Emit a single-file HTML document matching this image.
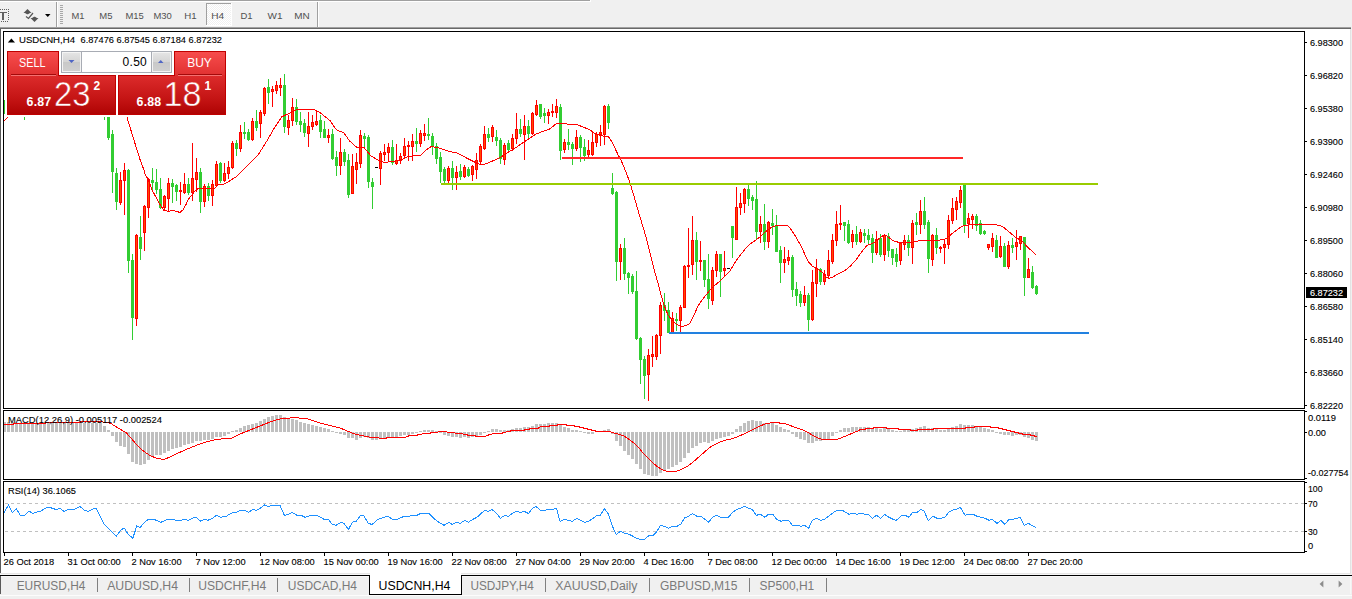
<!DOCTYPE html>
<html><head><meta charset="utf-8"><title>USDCNH,H4</title>
<style>
html,body{margin:0;padding:0}
body{width:1352px;height:599px;background:#f0f0f0;overflow:hidden;position:relative;font-family:"Liberation Sans",sans-serif}
svg{position:absolute;left:0;top:0}
svg text{font-family:"Liberation Sans",sans-serif}
</style></head><body>
<svg width="1352" height="599" viewBox="0 0 1352 599">
<defs>
<linearGradient id="gsell" x1="0" y1="0" x2="0" y2="1"><stop offset="0" stop-color="#f84c4c"/><stop offset="1" stop-color="#e13030"/></linearGradient>
<linearGradient id="gbig" x1="0" y1="0" x2="0" y2="1"><stop offset="0" stop-color="#dd2c2c"/><stop offset="0.6" stop-color="#c41414"/><stop offset="1" stop-color="#b00404"/></linearGradient>
<linearGradient id="gbtn" x1="0" y1="0" x2="0" y2="1"><stop offset="0" stop-color="#e4e4e4"/><stop offset="0.5" stop-color="#d4d4d4"/><stop offset="0.5" stop-color="#c8c8c8"/><stop offset="1" stop-color="#d0d0d0"/></linearGradient>
<pattern id="chk" width="2" height="2" patternUnits="userSpaceOnUse"><rect width="2" height="2" fill="#ffffff"/><rect width="1" height="1" fill="#f0f0f0"/><rect x="1" y="1" width="1" height="1" fill="#f0f0f0"/></pattern>
</defs>
<g shape-rendering="crispEdges">
<rect x="0" y="0" width="1352" height="29" fill="#f0f0f0"/>
<rect x="0" y="0" width="590" height="1" fill="#a0a0a0"/>
<rect x="0" y="1" width="591" height="1" fill="#ffffff"/>
<rect x="590" y="0" width="1" height="2" fill="#ffffff"/>
<rect x="0" y="27" width="1351" height="1" fill="#a0a0a0"/>
<rect x="0" y="28" width="1351" height="1" fill="#696969"/>
<rect x="0" y="9" width="1" height="1" fill="#606060"/>
<rect x="2" y="9" width="1" height="1" fill="#606060"/>
<rect x="4" y="9" width="1" height="1" fill="#606060"/>
<rect x="6" y="9" width="1" height="1" fill="#606060"/>
<rect x="8" y="9" width="1" height="1" fill="#606060"/>
<rect x="1" y="21" width="1" height="1" fill="#606060"/>
<rect x="3" y="21" width="1" height="1" fill="#606060"/>
<rect x="5" y="21" width="1" height="1" fill="#606060"/>
<rect x="7" y="21" width="1" height="1" fill="#606060"/>
<rect x="8" y="9" width="1" height="1" fill="#606060"/>
<rect x="8" y="11" width="1" height="1" fill="#606060"/>
<rect x="8" y="13" width="1" height="1" fill="#606060"/>
<rect x="8" y="15" width="1" height="1" fill="#606060"/>
<rect x="8" y="17" width="1" height="1" fill="#606060"/>
<rect x="8" y="19" width="1" height="1" fill="#606060"/>
<rect x="0" y="12" width="7" height="1" fill="#606060"/>
<rect x="2" y="12" width="2" height="8" fill="#606060"/>
<rect x="56" y="2" width="1" height="25" fill="#a0a0a0"/>
<rect x="57" y="2" width="1" height="25" fill="#ffffff"/>
<rect x="60" y="5" width="3" height="1" fill="#a8a8a8"/>
<rect x="60" y="7" width="3" height="1" fill="#a8a8a8"/>
<rect x="60" y="9" width="3" height="1" fill="#a8a8a8"/>
<rect x="60" y="11" width="3" height="1" fill="#a8a8a8"/>
<rect x="60" y="13" width="3" height="1" fill="#a8a8a8"/>
<rect x="60" y="15" width="3" height="1" fill="#a8a8a8"/>
<rect x="60" y="17" width="3" height="1" fill="#a8a8a8"/>
<rect x="60" y="19" width="3" height="1" fill="#a8a8a8"/>
<rect x="60" y="21" width="3" height="1" fill="#a8a8a8"/>
<rect x="60" y="23" width="3" height="1" fill="#a8a8a8"/>
<rect x="317" y="2" width="1" height="25" fill="#a0a0a0"/>
<rect x="318" y="2" width="1" height="25" fill="#ffffff"/>
<rect x="207" y="4" width="24" height="21" fill="url(#chk)"/>
<rect x="206" y="3" width="25" height="1" fill="#a0a0a0"/>
<rect x="206" y="3" width="1" height="22" fill="#a0a0a0"/>
<rect x="231" y="3" width="1" height="23" fill="#ffffff"/>
<rect x="206" y="25" width="26" height="1" fill="#ffffff"/>
</g>
<path d="M27.5 9 L31.5 13 L30 13 L28 14.2 L27 14.2 L25 13 L23.5 13 Z" fill="#555"/>
<path d="M34.5 22 L38.5 18 L37 18 L35 16.8 L34 16.8 L32 18 L30.5 18 Z" fill="#555"/>
<path d="M26 16.5 L28.5 18.5 L33 13" fill="none" stroke="#555" stroke-width="1.2"/>
<path d="M45 14 L50.5 14 L47.75 17 Z" fill="#000"/>
<text x="71.4" y="18.9" font-size="9.4" fill="#505050" textLength="13.00" lengthAdjust="spacingAndGlyphs" xml:space="preserve">M1</text>
<text x="99.3" y="18.9" font-size="9.4" fill="#505050" textLength="13.20" lengthAdjust="spacingAndGlyphs" xml:space="preserve">M5</text>
<text x="125.4" y="18.9" font-size="9.4" fill="#505050" textLength="18.40" lengthAdjust="spacingAndGlyphs" xml:space="preserve">M15</text>
<text x="153.39999999999998" y="18.9" font-size="9.4" fill="#505050" textLength="18.40" lengthAdjust="spacingAndGlyphs" xml:space="preserve">M30</text>
<text x="184.29999999999998" y="18.9" font-size="9.4" fill="#505050" textLength="12.40" lengthAdjust="spacingAndGlyphs" xml:space="preserve">H1</text>
<text x="211.29999999999998" y="18.9" font-size="9.4" fill="#505050" textLength="12.90" lengthAdjust="spacingAndGlyphs" xml:space="preserve">H4</text>
<text x="240.39999999999998" y="18.9" font-size="9.4" fill="#505050" textLength="12.10" lengthAdjust="spacingAndGlyphs" xml:space="preserve">D1</text>
<text x="267.5" y="18.9" font-size="9.4" fill="#505050" textLength="15.00" lengthAdjust="spacingAndGlyphs" xml:space="preserve">W1</text>
<text x="294.3" y="18.9" font-size="9.4" fill="#505050" textLength="15.50" lengthAdjust="spacingAndGlyphs" xml:space="preserve">MN</text>
<g shape-rendering="crispEdges">
<rect x="1" y="29" width="1349" height="544" fill="#ffffff"/>
<rect x="0" y="29" width="1" height="544" fill="#5a5a5a"/>
<rect x="1350" y="29" width="1" height="544" fill="#e3e3e3"/>
<rect x="0" y="573" width="1351" height="1" fill="#e6e6e6"/>
<rect x="0" y="574" width="1351" height="1" fill="#f6f6f6"/>
<rect x="3" y="31" width="1302" height="1" fill="#000"/>
<rect x="3" y="408" width="1302" height="1" fill="#000"/>
<rect x="3" y="31" width="1" height="378" fill="#000"/>
<rect x="1304" y="31" width="1" height="378" fill="#000"/>
<rect x="3" y="410" width="1302" height="1" fill="#000"/>
<rect x="3" y="479" width="1302" height="1" fill="#000"/>
<rect x="3" y="410" width="1" height="70" fill="#000"/>
<rect x="1304" y="410" width="1" height="70" fill="#000"/>
<rect x="3" y="481" width="1302" height="1" fill="#000"/>
<rect x="3" y="552" width="1302" height="1" fill="#000"/>
<rect x="3" y="481" width="1" height="72" fill="#000"/>
<rect x="1304" y="481" width="1" height="72" fill="#000"/>
<rect x="1305" y="42" width="2" height="1" fill="#000"/>
<rect x="1305" y="75" width="2" height="1" fill="#000"/>
<rect x="1305" y="108" width="2" height="1" fill="#000"/>
<rect x="1305" y="141" width="2" height="1" fill="#000"/>
<rect x="1305" y="174" width="2" height="1" fill="#000"/>
<rect x="1305" y="207" width="2" height="1" fill="#000"/>
<rect x="1305" y="240" width="2" height="1" fill="#000"/>
<rect x="1305" y="273" width="2" height="1" fill="#000"/>
<rect x="1305" y="306" width="2" height="1" fill="#000"/>
<rect x="1305" y="339" width="2" height="1" fill="#000"/>
<rect x="1305" y="372" width="2" height="1" fill="#000"/>
<rect x="1305" y="405" width="2" height="1" fill="#000"/>
<rect x="1305" y="411" width="2" height="1" fill="#000"/>
<rect x="1305" y="432" width="2" height="1" fill="#000"/>
<rect x="1305" y="478" width="2" height="1" fill="#000"/>
<rect x="1305" y="482" width="2" height="1" fill="#000"/>
<rect x="1305" y="503" width="2" height="1" fill="#000"/>
<rect x="1305" y="531" width="2" height="1" fill="#000"/>
<rect x="1305" y="551" width="2" height="1" fill="#000"/>
<rect x="4" y="553" width="1" height="3" fill="#000"/>
<rect x="68" y="553" width="1" height="3" fill="#000"/>
<rect x="132" y="553" width="1" height="3" fill="#000"/>
<rect x="196" y="553" width="1" height="3" fill="#000"/>
<rect x="260" y="553" width="1" height="3" fill="#000"/>
<rect x="324" y="553" width="1" height="3" fill="#000"/>
<rect x="388" y="553" width="1" height="3" fill="#000"/>
<rect x="452" y="553" width="1" height="3" fill="#000"/>
<rect x="516" y="553" width="1" height="3" fill="#000"/>
<rect x="580" y="553" width="1" height="3" fill="#000"/>
<rect x="644" y="553" width="1" height="3" fill="#000"/>
<rect x="708" y="553" width="1" height="3" fill="#000"/>
<rect x="772" y="553" width="1" height="3" fill="#000"/>
<rect x="836" y="553" width="1" height="3" fill="#000"/>
<rect x="900" y="553" width="1" height="3" fill="#000"/>
<rect x="964" y="553" width="1" height="3" fill="#000"/>
<rect x="1028" y="553" width="1" height="3" fill="#000"/>
<line x1="5" y1="503.5" x2="1304" y2="503.5" stroke="#c0c0c0" stroke-width="1" stroke-dasharray="3 3"/>
<line x1="5" y1="531.5" x2="1304" y2="531.5" stroke="#c0c0c0" stroke-width="1" stroke-dasharray="3 3"/>
<polyline points="4.0,513.0 8.4,505.0 12.4,512.4 16.4,509.0 20.4,515.5 24.4,515.5 29.0,511.0 33.0,513.5 37.0,512.0 40.0,511.5 47.0,507.5 50.0,507.5 56.0,509.5 60.0,508.4 64.3,511.5 68.3,509.4 74.0,509.4 80.0,506.4 84.0,510.0 88.0,511.5 94.0,508.5 96.3,508.4 100.0,516.0 104.0,524.0 109.0,529.0 113.0,533.0 116.4,536.0 121.0,530.0 124.2,528.0 128.0,534.0 132.8,538.3 136.8,526.0 140.0,527.5 144.0,523.0 148.2,519.3 153.8,519.3 160.8,522.3 167.8,519.3 172.0,519.3 176.8,520.5 180.7,520.3 184.7,519.3 188.0,520.5 192.7,518.0 196.3,517.3 200.7,521.3 204.7,519.3 208.0,520.3 212.7,518.0 216.7,515.3 220.7,517.3 226.7,516.0 231.7,513.0 236.7,512.0 240.7,510.0 244.7,510.0 248.7,512.4 252.6,509.4 256.0,510.4 260.6,508.0 264.4,505.0 268.4,506.6 272.4,505.4 280.0,505.4 284.4,515.3 288.4,514.3 292.4,512.4 297.0,515.3 301.0,515.3 305.0,517.3 311.0,515.3 317.0,515.3 324.0,519.3 328.3,519.3 332.3,524.3 336.0,525.3 341.0,522.3 344.0,523.3 348.5,529.5 352.3,522.3 356.5,521.0 360.5,515.3 364.0,516.0 368.3,523.3 372.0,524.5 378.0,519.3 384.0,517.3 388.0,516.3 393.0,519.5 397.0,519.5 404.0,516.3 409.0,516.3 413.0,515.3 417.0,515.3 421.0,513.3 429.0,513.3 434.0,518.5 440.0,523.0 444.0,525.3 449.0,522.3 452.0,524.3 457.0,522.3 460.3,523.3 465.0,520.3 468.3,522.3 473.0,519.3 477.0,517.3 481.0,513.5 485.0,510.5 488.3,511.3 492.0,509.4 497.0,514.0 500.3,518.3 505.0,515.3 508.3,516.3 513.0,513.0 517.0,511.3 520.3,512.4 524.4,511.5 528.4,513.5 532.4,508.4 536.0,506.4 540.4,510.4 544.4,510.4 548.4,509.4 553.0,509.4 556.5,508.4 560.0,521.3 564.3,519.3 568.0,520.3 572.3,521.3 577.0,518.3 580.5,520.3 585.0,522.3 589.0,521.0 592.3,519.0 596.3,516.0 600.5,515.3 604.3,508.4 608.5,514.0 612.3,526.0 616.3,534.5 620.5,531.3 625.0,533.3 629.0,534.3 633.0,536.3 637.0,538.5 641.0,539.5 644.2,539.5 649.0,535.5 653.0,535.5 657.0,531.3 660.4,525.3 664.2,526.3 668.4,528.3 672.2,526.3 677.0,526.3 681.0,524.0 684.4,518.0 688.4,516.3 692.4,513.5 697.0,516.3 701.0,516.3 705.0,519.3 708.3,522.3 713.0,517.0 716.3,515.3 721.0,517.3 728.3,517.3 733.0,512.0 737.0,509.4 741.0,508.0 744.3,506.4 748.3,508.0 752.3,509.4 756.3,515.3 760.3,514.3 765.0,517.3 768.3,514.3 773.0,514.3 776.3,519.0 781.0,521.3 784.0,520.3 788.4,520.3 792.4,525.3 798.0,525.3 801.0,526.3 804.4,525.3 808.6,528.3 812.4,520.3 816.3,518.3 821.0,520.3 825.0,519.0 829.0,516.0 833.0,513.0 836.5,510.4 842.0,510.0 849.0,514.3 853.0,513.3 857.0,514.3 861.0,513.3 865.0,514.3 868.5,514.3 872.5,518.3 876.5,515.3 880.5,518.3 884.5,514.3 889.0,517.3 893.0,519.3 896.4,520.3 901.0,516.0 905.0,515.3 909.0,517.3 912.4,512.5 917.0,512.4 921.0,509.4 924.0,511.0 928.2,520.5 933.0,516.3 937.0,518.3 941.0,518.3 945.0,517.3 949.0,512.0 953.0,510.0 957.0,509.0 960.3,507.4 965.0,515.3 969.0,514.3 973.0,514.3 977.0,516.3 981.0,517.3 985.0,518.3 989.0,520.3 992.3,519.3 997.0,523.3 1001.0,520.3 1005.0,524.3 1009.0,519.3 1013.0,519.3 1017.0,518.3 1020.3,517.3 1024.3,525.3 1028.3,523.3 1033.0,526.0 1036.0,527.3" fill="none" stroke="#1e90ff" stroke-width="1"/>
<rect x="4" y="422" width="2" height="10" fill="#c0c0c0"/>
<rect x="7" y="422" width="3" height="10" fill="#c0c0c0"/>
<rect x="11" y="422" width="3" height="10" fill="#c0c0c0"/>
<rect x="15" y="423" width="3" height="9" fill="#c0c0c0"/>
<rect x="19" y="423" width="3" height="9" fill="#c0c0c0"/>
<rect x="23" y="423" width="3" height="9" fill="#c0c0c0"/>
<rect x="27" y="423" width="3" height="9" fill="#c0c0c0"/>
<rect x="31" y="423" width="3" height="9" fill="#c0c0c0"/>
<rect x="35" y="423" width="3" height="9" fill="#c0c0c0"/>
<rect x="39" y="423" width="3" height="9" fill="#c0c0c0"/>
<rect x="43" y="423" width="3" height="9" fill="#c0c0c0"/>
<rect x="47" y="423" width="3" height="9" fill="#c0c0c0"/>
<rect x="51" y="423" width="3" height="9" fill="#c0c0c0"/>
<rect x="55" y="423" width="3" height="9" fill="#c0c0c0"/>
<rect x="59" y="423" width="3" height="9" fill="#c0c0c0"/>
<rect x="63" y="423" width="3" height="9" fill="#c0c0c0"/>
<rect x="67" y="423" width="3" height="9" fill="#c0c0c0"/>
<rect x="71" y="423" width="3" height="9" fill="#c0c0c0"/>
<rect x="75" y="423" width="3" height="9" fill="#c0c0c0"/>
<rect x="79" y="423" width="3" height="9" fill="#c0c0c0"/>
<rect x="83" y="423" width="3" height="9" fill="#c0c0c0"/>
<rect x="87" y="423" width="3" height="9" fill="#c0c0c0"/>
<rect x="91" y="423" width="3" height="9" fill="#c0c0c0"/>
<rect x="95" y="423" width="3" height="9" fill="#c0c0c0"/>
<rect x="99" y="423" width="3" height="9" fill="#c0c0c0"/>
<rect x="103" y="426" width="3" height="6" fill="#c0c0c0"/>
<rect x="107" y="430" width="3" height="2" fill="#c0c0c0"/>
<rect x="111" y="432" width="3" height="4" fill="#c0c0c0"/>
<rect x="115" y="432" width="3" height="10" fill="#c0c0c0"/>
<rect x="119" y="432" width="3" height="14" fill="#c0c0c0"/>
<rect x="123" y="432" width="3" height="15" fill="#c0c0c0"/>
<rect x="127" y="432" width="3" height="22" fill="#c0c0c0"/>
<rect x="131" y="432" width="3" height="30" fill="#c0c0c0"/>
<rect x="135" y="432" width="3" height="32" fill="#c0c0c0"/>
<rect x="139" y="432" width="3" height="33" fill="#c0c0c0"/>
<rect x="143" y="432" width="3" height="32" fill="#c0c0c0"/>
<rect x="147" y="432" width="3" height="28" fill="#c0c0c0"/>
<rect x="151" y="432" width="3" height="24" fill="#c0c0c0"/>
<rect x="155" y="432" width="3" height="23" fill="#c0c0c0"/>
<rect x="159" y="432" width="3" height="23" fill="#c0c0c0"/>
<rect x="163" y="432" width="3" height="21" fill="#c0c0c0"/>
<rect x="167" y="432" width="3" height="19" fill="#c0c0c0"/>
<rect x="171" y="432" width="3" height="17" fill="#c0c0c0"/>
<rect x="175" y="432" width="3" height="16" fill="#c0c0c0"/>
<rect x="179" y="432" width="3" height="15" fill="#c0c0c0"/>
<rect x="183" y="432" width="3" height="13" fill="#c0c0c0"/>
<rect x="187" y="432" width="3" height="12" fill="#c0c0c0"/>
<rect x="191" y="432" width="3" height="11" fill="#c0c0c0"/>
<rect x="195" y="432" width="3" height="9" fill="#c0c0c0"/>
<rect x="199" y="432" width="3" height="9" fill="#c0c0c0"/>
<rect x="203" y="432" width="3" height="8" fill="#c0c0c0"/>
<rect x="207" y="432" width="3" height="8" fill="#c0c0c0"/>
<rect x="211" y="432" width="3" height="7" fill="#c0c0c0"/>
<rect x="215" y="432" width="3" height="5" fill="#c0c0c0"/>
<rect x="219" y="432" width="3" height="5" fill="#c0c0c0"/>
<rect x="223" y="432" width="3" height="4" fill="#c0c0c0"/>
<rect x="227" y="432" width="3" height="2" fill="#c0c0c0"/>
<rect x="231" y="431" width="3" height="1" fill="#c0c0c0"/>
<rect x="235" y="430" width="3" height="2" fill="#c0c0c0"/>
<rect x="239" y="428" width="3" height="4" fill="#c0c0c0"/>
<rect x="243" y="426" width="3" height="6" fill="#c0c0c0"/>
<rect x="247" y="425" width="3" height="7" fill="#c0c0c0"/>
<rect x="251" y="424" width="3" height="8" fill="#c0c0c0"/>
<rect x="255" y="423" width="3" height="9" fill="#c0c0c0"/>
<rect x="259" y="421" width="3" height="11" fill="#c0c0c0"/>
<rect x="263" y="419" width="3" height="13" fill="#c0c0c0"/>
<rect x="267" y="417" width="3" height="15" fill="#c0c0c0"/>
<rect x="271" y="416" width="3" height="16" fill="#c0c0c0"/>
<rect x="275" y="415" width="3" height="17" fill="#c0c0c0"/>
<rect x="279" y="415" width="3" height="17" fill="#c0c0c0"/>
<rect x="283" y="417" width="3" height="15" fill="#c0c0c0"/>
<rect x="287" y="418" width="3" height="14" fill="#c0c0c0"/>
<rect x="291" y="419" width="3" height="13" fill="#c0c0c0"/>
<rect x="295" y="420" width="3" height="12" fill="#c0c0c0"/>
<rect x="299" y="422" width="3" height="10" fill="#c0c0c0"/>
<rect x="303" y="423" width="3" height="9" fill="#c0c0c0"/>
<rect x="307" y="424" width="3" height="8" fill="#c0c0c0"/>
<rect x="311" y="425" width="3" height="7" fill="#c0c0c0"/>
<rect x="315" y="426" width="3" height="6" fill="#c0c0c0"/>
<rect x="319" y="427" width="3" height="5" fill="#c0c0c0"/>
<rect x="323" y="428" width="3" height="4" fill="#c0c0c0"/>
<rect x="327" y="429" width="3" height="3" fill="#c0c0c0"/>
<rect x="331" y="431" width="3" height="1" fill="#c0c0c0"/>
<rect x="335" y="432" width="3" height="1" fill="#c0c0c0"/>
<rect x="339" y="432" width="3" height="2" fill="#c0c0c0"/>
<rect x="343" y="432" width="3" height="3" fill="#c0c0c0"/>
<rect x="347" y="432" width="3" height="6" fill="#c0c0c0"/>
<rect x="351" y="432" width="3" height="6" fill="#c0c0c0"/>
<rect x="355" y="432" width="3" height="8" fill="#c0c0c0"/>
<rect x="359" y="432" width="3" height="6" fill="#c0c0c0"/>
<rect x="363" y="432" width="3" height="5" fill="#c0c0c0"/>
<rect x="367" y="432" width="3" height="6" fill="#c0c0c0"/>
<rect x="371" y="432" width="3" height="8" fill="#c0c0c0"/>
<rect x="375" y="432" width="3" height="8" fill="#c0c0c0"/>
<rect x="379" y="432" width="3" height="7" fill="#c0c0c0"/>
<rect x="383" y="432" width="3" height="7" fill="#c0c0c0"/>
<rect x="387" y="432" width="3" height="6" fill="#c0c0c0"/>
<rect x="391" y="432" width="3" height="6" fill="#c0c0c0"/>
<rect x="395" y="432" width="3" height="5" fill="#c0c0c0"/>
<rect x="399" y="432" width="3" height="4" fill="#c0c0c0"/>
<rect x="403" y="432" width="3" height="3" fill="#c0c0c0"/>
<rect x="407" y="432" width="3" height="3" fill="#c0c0c0"/>
<rect x="411" y="432" width="3" height="2" fill="#c0c0c0"/>
<rect x="415" y="432" width="3" height="1" fill="#c0c0c0"/>
<rect x="419" y="431" width="3" height="1" fill="#c0c0c0"/>
<rect x="423" y="430" width="3" height="2" fill="#c0c0c0"/>
<rect x="427" y="430" width="3" height="2" fill="#c0c0c0"/>
<rect x="431" y="430" width="3" height="2" fill="#c0c0c0"/>
<rect x="435" y="431" width="3" height="1" fill="#c0c0c0"/>
<rect x="439" y="432" width="3" height="1" fill="#c0c0c0"/>
<rect x="443" y="432" width="3" height="3" fill="#c0c0c0"/>
<rect x="447" y="432" width="3" height="4" fill="#c0c0c0"/>
<rect x="451" y="432" width="3" height="5" fill="#c0c0c0"/>
<rect x="455" y="432" width="3" height="5" fill="#c0c0c0"/>
<rect x="459" y="432" width="3" height="6" fill="#c0c0c0"/>
<rect x="463" y="432" width="3" height="5" fill="#c0c0c0"/>
<rect x="467" y="432" width="3" height="6" fill="#c0c0c0"/>
<rect x="471" y="432" width="3" height="5" fill="#c0c0c0"/>
<rect x="475" y="432" width="3" height="4" fill="#c0c0c0"/>
<rect x="479" y="432" width="3" height="3" fill="#c0c0c0"/>
<rect x="483" y="432" width="3" height="1" fill="#c0c0c0"/>
<rect x="487" y="431" width="3" height="1" fill="#c0c0c0"/>
<rect x="491" y="429" width="3" height="3" fill="#c0c0c0"/>
<rect x="495" y="429" width="3" height="3" fill="#c0c0c0"/>
<rect x="499" y="430" width="3" height="2" fill="#c0c0c0"/>
<rect x="503" y="430" width="3" height="2" fill="#c0c0c0"/>
<rect x="507" y="430" width="3" height="2" fill="#c0c0c0"/>
<rect x="511" y="429" width="3" height="3" fill="#c0c0c0"/>
<rect x="515" y="428" width="3" height="4" fill="#c0c0c0"/>
<rect x="519" y="428" width="3" height="4" fill="#c0c0c0"/>
<rect x="523" y="427" width="3" height="5" fill="#c0c0c0"/>
<rect x="527" y="427" width="3" height="5" fill="#c0c0c0"/>
<rect x="531" y="426" width="3" height="6" fill="#c0c0c0"/>
<rect x="535" y="424" width="3" height="8" fill="#c0c0c0"/>
<rect x="539" y="424" width="3" height="8" fill="#c0c0c0"/>
<rect x="543" y="424" width="3" height="8" fill="#c0c0c0"/>
<rect x="547" y="423" width="3" height="9" fill="#c0c0c0"/>
<rect x="551" y="423" width="3" height="9" fill="#c0c0c0"/>
<rect x="555" y="423" width="3" height="9" fill="#c0c0c0"/>
<rect x="559" y="425" width="3" height="7" fill="#c0c0c0"/>
<rect x="563" y="427" width="3" height="5" fill="#c0c0c0"/>
<rect x="567" y="428" width="3" height="4" fill="#c0c0c0"/>
<rect x="571" y="430" width="3" height="2" fill="#c0c0c0"/>
<rect x="575" y="430" width="3" height="2" fill="#c0c0c0"/>
<rect x="579" y="431" width="3" height="1" fill="#c0c0c0"/>
<rect x="583" y="432" width="3" height="1" fill="#c0c0c0"/>
<rect x="587" y="432" width="3" height="2" fill="#c0c0c0"/>
<rect x="591" y="432" width="3" height="2" fill="#c0c0c0"/>
<rect x="595" y="431" width="3" height="1" fill="#c0c0c0"/>
<rect x="599" y="431" width="3" height="1" fill="#c0c0c0"/>
<rect x="603" y="430" width="3" height="2" fill="#c0c0c0"/>
<rect x="607" y="429" width="3" height="3" fill="#c0c0c0"/>
<rect x="611" y="432" width="3" height="2" fill="#c0c0c0"/>
<rect x="615" y="432" width="3" height="9" fill="#c0c0c0"/>
<rect x="619" y="432" width="3" height="14" fill="#c0c0c0"/>
<rect x="623" y="432" width="3" height="19" fill="#c0c0c0"/>
<rect x="627" y="432" width="3" height="23" fill="#c0c0c0"/>
<rect x="631" y="432" width="3" height="27" fill="#c0c0c0"/>
<rect x="635" y="432" width="3" height="32" fill="#c0c0c0"/>
<rect x="639" y="432" width="3" height="37" fill="#c0c0c0"/>
<rect x="643" y="432" width="3" height="42" fill="#c0c0c0"/>
<rect x="647" y="432" width="3" height="43" fill="#c0c0c0"/>
<rect x="651" y="432" width="3" height="44" fill="#c0c0c0"/>
<rect x="655" y="432" width="3" height="44" fill="#c0c0c0"/>
<rect x="659" y="432" width="3" height="41" fill="#c0c0c0"/>
<rect x="663" y="432" width="3" height="38" fill="#c0c0c0"/>
<rect x="667" y="432" width="3" height="37" fill="#c0c0c0"/>
<rect x="671" y="432" width="3" height="35" fill="#c0c0c0"/>
<rect x="675" y="432" width="3" height="33" fill="#c0c0c0"/>
<rect x="679" y="432" width="3" height="30" fill="#c0c0c0"/>
<rect x="683" y="432" width="3" height="26" fill="#c0c0c0"/>
<rect x="687" y="432" width="3" height="21" fill="#c0c0c0"/>
<rect x="691" y="432" width="3" height="16" fill="#c0c0c0"/>
<rect x="695" y="432" width="3" height="14" fill="#c0c0c0"/>
<rect x="699" y="432" width="3" height="11" fill="#c0c0c0"/>
<rect x="703" y="432" width="3" height="10" fill="#c0c0c0"/>
<rect x="707" y="432" width="3" height="11" fill="#c0c0c0"/>
<rect x="711" y="432" width="3" height="9" fill="#c0c0c0"/>
<rect x="715" y="432" width="3" height="7" fill="#c0c0c0"/>
<rect x="719" y="432" width="3" height="6" fill="#c0c0c0"/>
<rect x="723" y="432" width="3" height="5" fill="#c0c0c0"/>
<rect x="727" y="432" width="3" height="4" fill="#c0c0c0"/>
<rect x="731" y="432" width="3" height="2" fill="#c0c0c0"/>
<rect x="735" y="429" width="3" height="3" fill="#c0c0c0"/>
<rect x="739" y="426" width="3" height="6" fill="#c0c0c0"/>
<rect x="743" y="423" width="3" height="9" fill="#c0c0c0"/>
<rect x="747" y="421" width="3" height="11" fill="#c0c0c0"/>
<rect x="751" y="420" width="3" height="12" fill="#c0c0c0"/>
<rect x="755" y="421" width="3" height="11" fill="#c0c0c0"/>
<rect x="759" y="421" width="3" height="11" fill="#c0c0c0"/>
<rect x="763" y="423" width="3" height="9" fill="#c0c0c0"/>
<rect x="767" y="423" width="3" height="9" fill="#c0c0c0"/>
<rect x="771" y="423" width="3" height="9" fill="#c0c0c0"/>
<rect x="775" y="425" width="3" height="7" fill="#c0c0c0"/>
<rect x="779" y="427" width="3" height="5" fill="#c0c0c0"/>
<rect x="783" y="429" width="3" height="3" fill="#c0c0c0"/>
<rect x="787" y="430" width="3" height="2" fill="#c0c0c0"/>
<rect x="791" y="432" width="3" height="2" fill="#c0c0c0"/>
<rect x="795" y="432" width="3" height="5" fill="#c0c0c0"/>
<rect x="799" y="432" width="3" height="7" fill="#c0c0c0"/>
<rect x="803" y="432" width="3" height="8" fill="#c0c0c0"/>
<rect x="807" y="432" width="3" height="11" fill="#c0c0c0"/>
<rect x="811" y="432" width="3" height="11" fill="#c0c0c0"/>
<rect x="815" y="432" width="3" height="9" fill="#c0c0c0"/>
<rect x="819" y="432" width="3" height="9" fill="#c0c0c0"/>
<rect x="823" y="432" width="3" height="8" fill="#c0c0c0"/>
<rect x="827" y="432" width="3" height="7" fill="#c0c0c0"/>
<rect x="831" y="432" width="3" height="4" fill="#c0c0c0"/>
<rect x="835" y="432" width="3" height="1" fill="#c0c0c0"/>
<rect x="839" y="430" width="3" height="2" fill="#c0c0c0"/>
<rect x="843" y="428" width="3" height="4" fill="#c0c0c0"/>
<rect x="847" y="428" width="3" height="4" fill="#c0c0c0"/>
<rect x="851" y="427" width="3" height="5" fill="#c0c0c0"/>
<rect x="855" y="427" width="3" height="5" fill="#c0c0c0"/>
<rect x="859" y="427" width="3" height="5" fill="#c0c0c0"/>
<rect x="863" y="427" width="3" height="5" fill="#c0c0c0"/>
<rect x="867" y="427" width="3" height="5" fill="#c0c0c0"/>
<rect x="871" y="428" width="3" height="4" fill="#c0c0c0"/>
<rect x="875" y="427" width="3" height="5" fill="#c0c0c0"/>
<rect x="879" y="429" width="3" height="3" fill="#c0c0c0"/>
<rect x="883" y="427" width="3" height="5" fill="#c0c0c0"/>
<rect x="887" y="429" width="3" height="3" fill="#c0c0c0"/>
<rect x="891" y="430" width="3" height="2" fill="#c0c0c0"/>
<rect x="895" y="431" width="3" height="1" fill="#c0c0c0"/>
<rect x="899" y="431" width="3" height="1" fill="#c0c0c0"/>
<rect x="903" y="430" width="3" height="2" fill="#c0c0c0"/>
<rect x="907" y="430" width="3" height="2" fill="#c0c0c0"/>
<rect x="911" y="429" width="3" height="3" fill="#c0c0c0"/>
<rect x="915" y="428" width="3" height="4" fill="#c0c0c0"/>
<rect x="919" y="427" width="3" height="5" fill="#c0c0c0"/>
<rect x="923" y="426" width="3" height="6" fill="#c0c0c0"/>
<rect x="927" y="428" width="3" height="4" fill="#c0c0c0"/>
<rect x="931" y="428" width="3" height="4" fill="#c0c0c0"/>
<rect x="935" y="429" width="3" height="3" fill="#c0c0c0"/>
<rect x="939" y="430" width="3" height="2" fill="#c0c0c0"/>
<rect x="943" y="430" width="3" height="2" fill="#c0c0c0"/>
<rect x="947" y="429" width="3" height="3" fill="#c0c0c0"/>
<rect x="951" y="427" width="3" height="5" fill="#c0c0c0"/>
<rect x="955" y="426" width="3" height="6" fill="#c0c0c0"/>
<rect x="959" y="424" width="3" height="8" fill="#c0c0c0"/>
<rect x="963" y="425" width="3" height="7" fill="#c0c0c0"/>
<rect x="967" y="425" width="3" height="7" fill="#c0c0c0"/>
<rect x="971" y="425" width="3" height="7" fill="#c0c0c0"/>
<rect x="975" y="426" width="3" height="6" fill="#c0c0c0"/>
<rect x="979" y="427" width="3" height="5" fill="#c0c0c0"/>
<rect x="983" y="428" width="3" height="4" fill="#c0c0c0"/>
<rect x="987" y="429" width="3" height="3" fill="#c0c0c0"/>
<rect x="991" y="430" width="3" height="2" fill="#c0c0c0"/>
<rect x="995" y="432" width="3" height="1" fill="#c0c0c0"/>
<rect x="999" y="432" width="3" height="2" fill="#c0c0c0"/>
<rect x="1003" y="432" width="3" height="3" fill="#c0c0c0"/>
<rect x="1007" y="432" width="3" height="3" fill="#c0c0c0"/>
<rect x="1011" y="432" width="3" height="4" fill="#c0c0c0"/>
<rect x="1015" y="432" width="3" height="3" fill="#c0c0c0"/>
<rect x="1019" y="432" width="3" height="3" fill="#c0c0c0"/>
<rect x="1023" y="432" width="3" height="5" fill="#c0c0c0"/>
<rect x="1027" y="432" width="3" height="6" fill="#c0c0c0"/>
<rect x="1031" y="432" width="3" height="8" fill="#c0c0c0"/>
<rect x="1035" y="432" width="3" height="9" fill="#c0c0c0"/>
<polyline points="4.0,424.5 13.9,424.5 14.0,423.5 45.9,423.5 46.0,422.5 80.9,422.5 81.0,421.5 102.0,421.5 104.0,422.5 108.0,422.5 110.0,423.5 111.0,423.6 114.0,425.4 117.0,427.4 119.0,428.4 122.0,430.4 126.0,432.6 131.0,438.0 136.0,444.0 141.0,449.0 146.0,453.0 151.0,456.0 156.0,458.0 161.0,459.0 165.0,459.0 171.0,456.6 176.0,454.0 186.0,449.5 196.0,445.5 206.0,442.0 216.0,439.5 226.0,438.6 232.0,438.0 240.0,434.0 250.0,430.0 260.0,426.0 270.0,422.0 276.0,420.0 282.0,418.5 290.0,418.0 292.0,417.5 298.0,417.5 300.0,418.5 306.0,418.5 310.0,419.5 318.0,422.5 326.0,424.5 334.0,426.5 340.0,428.0 346.0,430.5 352.0,433.0 356.0,434.5 362.0,435.5 366.0,436.5 372.0,437.5 378.0,437.5 380.0,438.5 386.0,438.5 387.0,437.5 405.0,437.5 407.0,436.5 410.0,435.5 417.0,435.5 418.0,434.5 421.0,434.5 423.0,433.5 430.0,433.5 431.0,432.5 437.0,432.5 439.0,431.5 446.0,431.5 448.0,432.5 454.0,432.5 456.0,433.5 462.0,433.5 464.0,434.5 467.0,434.5 468.0,435.5 475.0,435.5 476.0,436.5 485.0,436.5 487.0,435.5 490.0,434.5 494.0,433.5 502.0,433.5 503.0,432.5 510.0,431.5 511.0,430.5 524.0,430.5 525.0,429.5 529.0,429.5 530.0,428.5 538.0,428.5 539.0,427.5 541.0,426.5 549.0,426.5 550.0,425.5 557.0,425.5 558.0,424.5 566.0,424.5 567.0,425.5 574.0,425.5 575.0,426.5 579.0,426.5 580.0,427.5 583.0,427.5 584.0,428.5 587.0,428.5 588.0,429.5 591.0,429.5 592.0,430.5 595.0,430.5 596.0,431.5 610.0,431.5 612.0,432.5 618.0,434.0 624.0,436.0 628.0,438.5 632.0,441.5 636.0,445.0 640.0,449.0 642.0,452.0 646.0,456.0 650.0,460.0 654.0,464.0 658.0,467.0 662.0,469.5 666.0,471.0 668.0,471.4 676.0,471.4 680.0,470.0 684.0,468.0 688.0,466.0 692.0,463.0 696.0,459.5 700.0,456.0 704.0,452.5 708.0,449.0 712.0,446.0 716.0,444.0 720.0,442.0 724.0,440.5 728.0,439.5 730.0,439.3 737.0,437.0 745.0,433.5 752.0,430.0 760.0,426.0 765.0,424.0 770.0,423.0 772.0,422.5 778.0,422.5 780.0,423.2 785.0,423.5 790.0,425.5 797.0,428.0 803.0,430.0 808.0,432.5 814.0,436.0 818.0,438.0 823.0,439.5 837.0,439.5 841.0,438.0 847.0,435.5 853.0,433.0 859.0,430.5 860.0,429.5 865.0,429.5 866.0,428.5 873.0,428.5 874.0,427.5 886.0,427.5 887.0,428.5 898.0,428.5 899.0,429.5 910.0,429.5 911.0,430.5 917.0,430.5 918.0,429.5 933.0,429.5 934.0,428.5 965.0,428.5 966.0,427.5 974.0,427.5 975.0,426.5 990.0,426.5 991.0,427.5 998.0,427.5 999.0,428.5 1002.0,428.5 1003.0,429.5 1006.0,429.5 1007.0,430.5 1010.0,430.5 1011.0,431.5 1014.0,431.5 1015.0,432.5 1018.0,432.5 1019.0,433.5 1022.0,433.5 1023.0,434.5 1030.0,434.5 1031.0,435.5 1034.0,435.5 1035.0,436.5 1036.9,436.5" fill="none" stroke="#ff0000" stroke-width="1"/>
<rect x="112" y="130" width="1" height="63" fill="#32cd32"/>
<rect x="111" y="134" width="3" height="38" fill="#32cd32"/>
<rect x="116" y="168" width="1" height="42" fill="#32cd32"/>
<rect x="115" y="173" width="3" height="29" fill="#32cd32"/>
<rect x="120" y="172" width="1" height="33" fill="#ff0000"/>
<rect x="119" y="180" width="3" height="23" fill="#ff0000"/>
<rect x="120" y="181" width="1" height="21" fill="#ff4a00"/>
<rect x="124" y="163" width="1" height="52" fill="#ff0000"/>
<rect x="123" y="170" width="3" height="11" fill="#ff0000"/>
<rect x="124" y="171" width="1" height="9" fill="#ff4a00"/>
<rect x="128" y="169" width="1" height="104" fill="#32cd32"/>
<rect x="127" y="170" width="3" height="91" fill="#32cd32"/>
<rect x="132" y="254" width="1" height="86" fill="#32cd32"/>
<rect x="131" y="260" width="3" height="58" fill="#32cd32"/>
<rect x="136" y="234" width="1" height="92" fill="#ff0000"/>
<rect x="135" y="235" width="3" height="84" fill="#ff0000"/>
<rect x="136" y="236" width="1" height="82" fill="#ff4a00"/>
<rect x="140" y="216" width="1" height="44" fill="#32cd32"/>
<rect x="139" y="237" width="3" height="12" fill="#32cd32"/>
<rect x="144" y="205" width="1" height="46" fill="#ff0000"/>
<rect x="143" y="206" width="3" height="27" fill="#ff0000"/>
<rect x="144" y="207" width="1" height="25" fill="#ff4a00"/>
<rect x="148" y="178" width="1" height="40" fill="#ff0000"/>
<rect x="147" y="179" width="3" height="29" fill="#ff0000"/>
<rect x="148" y="180" width="1" height="27" fill="#ff4a00"/>
<rect x="152" y="168" width="1" height="24" fill="#32cd32"/>
<rect x="151" y="180" width="3" height="3" fill="#32cd32"/>
<rect x="156" y="169" width="1" height="25" fill="#32cd32"/>
<rect x="155" y="182" width="3" height="8" fill="#32cd32"/>
<rect x="160" y="178" width="1" height="31" fill="#32cd32"/>
<rect x="159" y="189" width="3" height="19" fill="#32cd32"/>
<rect x="164" y="195" width="1" height="15" fill="#ff0000"/>
<rect x="163" y="196" width="3" height="12" fill="#ff0000"/>
<rect x="164" y="197" width="1" height="10" fill="#ff4a00"/>
<rect x="168" y="178" width="1" height="33" fill="#ff0000"/>
<rect x="167" y="183" width="3" height="16" fill="#ff0000"/>
<rect x="168" y="184" width="1" height="14" fill="#ff4a00"/>
<rect x="172" y="179" width="1" height="24" fill="#32cd32"/>
<rect x="171" y="183" width="3" height="4" fill="#32cd32"/>
<rect x="176" y="184" width="1" height="17" fill="#32cd32"/>
<rect x="175" y="185" width="3" height="7" fill="#32cd32"/>
<rect x="180" y="182" width="1" height="23" fill="#ff0000"/>
<rect x="179" y="190" width="3" height="2" fill="#ff0000"/>
<rect x="184" y="173" width="1" height="21" fill="#ff0000"/>
<rect x="183" y="184" width="3" height="9" fill="#ff0000"/>
<rect x="184" y="185" width="1" height="7" fill="#ff4a00"/>
<rect x="188" y="178" width="1" height="17" fill="#32cd32"/>
<rect x="187" y="184" width="3" height="9" fill="#32cd32"/>
<rect x="192" y="143" width="1" height="58" fill="#ff0000"/>
<rect x="191" y="178" width="3" height="15" fill="#ff0000"/>
<rect x="192" y="179" width="1" height="13" fill="#ff4a00"/>
<rect x="196" y="158" width="1" height="34" fill="#ff0000"/>
<rect x="195" y="172" width="3" height="8" fill="#ff0000"/>
<rect x="196" y="173" width="1" height="6" fill="#ff4a00"/>
<rect x="200" y="168" width="1" height="45" fill="#32cd32"/>
<rect x="199" y="172" width="3" height="30" fill="#32cd32"/>
<rect x="204" y="184" width="1" height="23" fill="#ff0000"/>
<rect x="203" y="186" width="3" height="16" fill="#ff0000"/>
<rect x="204" y="187" width="1" height="14" fill="#ff4a00"/>
<rect x="208" y="183" width="1" height="18" fill="#32cd32"/>
<rect x="207" y="186" width="3" height="10" fill="#32cd32"/>
<rect x="212" y="180" width="1" height="26" fill="#ff0000"/>
<rect x="211" y="184" width="3" height="12" fill="#ff0000"/>
<rect x="212" y="185" width="1" height="10" fill="#ff4a00"/>
<rect x="216" y="161" width="1" height="26" fill="#ff0000"/>
<rect x="215" y="164" width="3" height="22" fill="#ff0000"/>
<rect x="216" y="165" width="1" height="20" fill="#ff4a00"/>
<rect x="220" y="162" width="1" height="21" fill="#32cd32"/>
<rect x="219" y="163" width="3" height="18" fill="#32cd32"/>
<rect x="224" y="163" width="1" height="19" fill="#ff0000"/>
<rect x="223" y="173" width="3" height="8" fill="#ff0000"/>
<rect x="224" y="174" width="1" height="6" fill="#ff4a00"/>
<rect x="228" y="161" width="1" height="18" fill="#ff0000"/>
<rect x="227" y="167" width="3" height="7" fill="#ff0000"/>
<rect x="228" y="168" width="1" height="5" fill="#ff4a00"/>
<rect x="232" y="141" width="1" height="28" fill="#ff0000"/>
<rect x="231" y="143" width="3" height="25" fill="#ff0000"/>
<rect x="232" y="144" width="1" height="23" fill="#ff4a00"/>
<rect x="236" y="140" width="1" height="16" fill="#32cd32"/>
<rect x="235" y="143" width="3" height="6" fill="#32cd32"/>
<rect x="240" y="125" width="1" height="27" fill="#ff0000"/>
<rect x="239" y="132" width="3" height="17" fill="#ff0000"/>
<rect x="240" y="133" width="1" height="15" fill="#ff4a00"/>
<rect x="244" y="122" width="1" height="17" fill="#32cd32"/>
<rect x="243" y="132" width="3" height="2" fill="#32cd32"/>
<rect x="248" y="129" width="1" height="12" fill="#32cd32"/>
<rect x="247" y="132" width="3" height="8" fill="#32cd32"/>
<rect x="252" y="118" width="1" height="23" fill="#ff0000"/>
<rect x="251" y="121" width="3" height="19" fill="#ff0000"/>
<rect x="252" y="122" width="1" height="17" fill="#ff4a00"/>
<rect x="256" y="110" width="1" height="21" fill="#32cd32"/>
<rect x="255" y="121" width="3" height="7" fill="#32cd32"/>
<rect x="260" y="110" width="1" height="28" fill="#ff0000"/>
<rect x="259" y="112" width="3" height="12" fill="#ff0000"/>
<rect x="260" y="113" width="1" height="10" fill="#ff4a00"/>
<rect x="264" y="87" width="1" height="29" fill="#ff0000"/>
<rect x="263" y="88" width="3" height="26" fill="#ff0000"/>
<rect x="264" y="89" width="1" height="24" fill="#ff4a00"/>
<rect x="268" y="79" width="1" height="25" fill="#32cd32"/>
<rect x="267" y="87" width="3" height="6" fill="#32cd32"/>
<rect x="272" y="86" width="1" height="21" fill="#ff0000"/>
<rect x="271" y="89" width="3" height="3" fill="#ff0000"/>
<rect x="272" y="90" width="1" height="1" fill="#ff4a00"/>
<rect x="276" y="81" width="1" height="13" fill="#ff0000"/>
<rect x="275" y="85" width="3" height="6" fill="#ff0000"/>
<rect x="276" y="86" width="1" height="4" fill="#ff4a00"/>
<rect x="280" y="78" width="1" height="18" fill="#ff0000"/>
<rect x="279" y="85" width="3" height="3" fill="#ff0000"/>
<rect x="280" y="86" width="1" height="1" fill="#ff4a00"/>
<rect x="284" y="74" width="1" height="59" fill="#32cd32"/>
<rect x="283" y="85" width="3" height="42" fill="#32cd32"/>
<rect x="288" y="115" width="1" height="20" fill="#ff0000"/>
<rect x="287" y="120" width="3" height="8" fill="#ff0000"/>
<rect x="288" y="121" width="1" height="6" fill="#ff4a00"/>
<rect x="292" y="98" width="1" height="28" fill="#ff0000"/>
<rect x="291" y="107" width="3" height="14" fill="#ff0000"/>
<rect x="292" y="108" width="1" height="12" fill="#ff4a00"/>
<rect x="296" y="99" width="1" height="26" fill="#32cd32"/>
<rect x="295" y="107" width="3" height="15" fill="#32cd32"/>
<rect x="300" y="112" width="1" height="20" fill="#32cd32"/>
<rect x="299" y="121" width="3" height="4" fill="#32cd32"/>
<rect x="304" y="119" width="1" height="18" fill="#32cd32"/>
<rect x="303" y="123" width="3" height="10" fill="#32cd32"/>
<rect x="308" y="112" width="1" height="35" fill="#ff0000"/>
<rect x="307" y="126" width="3" height="8" fill="#ff0000"/>
<rect x="308" y="127" width="1" height="6" fill="#ff4a00"/>
<rect x="312" y="115" width="1" height="15" fill="#ff0000"/>
<rect x="311" y="122" width="3" height="5" fill="#ff0000"/>
<rect x="312" y="123" width="1" height="3" fill="#ff4a00"/>
<rect x="316" y="111" width="1" height="15" fill="#ff0000"/>
<rect x="315" y="121" width="3" height="4" fill="#ff0000"/>
<rect x="316" y="122" width="1" height="2" fill="#ff4a00"/>
<rect x="320" y="115" width="1" height="23" fill="#32cd32"/>
<rect x="319" y="120" width="3" height="12" fill="#32cd32"/>
<rect x="324" y="121" width="1" height="17" fill="#32cd32"/>
<rect x="323" y="129" width="3" height="9" fill="#32cd32"/>
<rect x="328" y="129" width="1" height="14" fill="#ff0000"/>
<rect x="327" y="135" width="3" height="3" fill="#ff0000"/>
<rect x="328" y="136" width="1" height="1" fill="#ff4a00"/>
<rect x="332" y="129" width="1" height="31" fill="#32cd32"/>
<rect x="331" y="134" width="3" height="25" fill="#32cd32"/>
<rect x="336" y="151" width="1" height="25" fill="#32cd32"/>
<rect x="335" y="157" width="3" height="9" fill="#32cd32"/>
<rect x="340" y="138" width="1" height="37" fill="#ff0000"/>
<rect x="339" y="152" width="3" height="14" fill="#ff0000"/>
<rect x="340" y="153" width="1" height="12" fill="#ff4a00"/>
<rect x="344" y="149" width="1" height="17" fill="#32cd32"/>
<rect x="343" y="152" width="3" height="10" fill="#32cd32"/>
<rect x="348" y="154" width="1" height="44" fill="#32cd32"/>
<rect x="347" y="160" width="3" height="35" fill="#32cd32"/>
<rect x="352" y="154" width="1" height="40" fill="#ff0000"/>
<rect x="351" y="166" width="3" height="28" fill="#ff0000"/>
<rect x="352" y="167" width="1" height="26" fill="#ff4a00"/>
<rect x="356" y="153" width="1" height="31" fill="#ff0000"/>
<rect x="355" y="162" width="3" height="8" fill="#ff0000"/>
<rect x="356" y="163" width="1" height="6" fill="#ff4a00"/>
<rect x="360" y="130" width="1" height="38" fill="#ff0000"/>
<rect x="359" y="135" width="3" height="29" fill="#ff0000"/>
<rect x="360" y="136" width="1" height="27" fill="#ff4a00"/>
<rect x="364" y="133" width="1" height="16" fill="#32cd32"/>
<rect x="363" y="136" width="3" height="3" fill="#32cd32"/>
<rect x="368" y="135" width="1" height="53" fill="#32cd32"/>
<rect x="367" y="137" width="3" height="45" fill="#32cd32"/>
<rect x="372" y="178" width="1" height="31" fill="#32cd32"/>
<rect x="371" y="182" width="3" height="5" fill="#32cd32"/>
<rect x="375" y="167" width="3" height="1" fill="#000"/>
<rect x="380" y="151" width="1" height="34" fill="#ff0000"/>
<rect x="379" y="153" width="3" height="16" fill="#ff0000"/>
<rect x="380" y="154" width="1" height="14" fill="#ff4a00"/>
<rect x="384" y="144" width="1" height="17" fill="#ff0000"/>
<rect x="383" y="152" width="3" height="3" fill="#ff0000"/>
<rect x="384" y="153" width="1" height="1" fill="#ff4a00"/>
<rect x="388" y="143" width="1" height="18" fill="#ff0000"/>
<rect x="387" y="147" width="3" height="6" fill="#ff0000"/>
<rect x="388" y="148" width="1" height="4" fill="#ff4a00"/>
<rect x="392" y="140" width="1" height="25" fill="#32cd32"/>
<rect x="391" y="147" width="3" height="16" fill="#32cd32"/>
<rect x="396" y="144" width="1" height="21" fill="#ff0000"/>
<rect x="395" y="160" width="3" height="4" fill="#ff0000"/>
<rect x="396" y="161" width="1" height="2" fill="#ff4a00"/>
<rect x="400" y="153" width="1" height="11" fill="#ff0000"/>
<rect x="399" y="156" width="3" height="5" fill="#ff0000"/>
<rect x="400" y="157" width="1" height="3" fill="#ff4a00"/>
<rect x="404" y="138" width="1" height="20" fill="#ff0000"/>
<rect x="403" y="146" width="3" height="10" fill="#ff0000"/>
<rect x="404" y="147" width="1" height="8" fill="#ff4a00"/>
<rect x="408" y="141" width="1" height="20" fill="#ff0000"/>
<rect x="407" y="145" width="3" height="2" fill="#ff0000"/>
<rect x="412" y="134" width="1" height="27" fill="#ff0000"/>
<rect x="411" y="141" width="3" height="6" fill="#ff0000"/>
<rect x="412" y="142" width="1" height="4" fill="#ff4a00"/>
<rect x="416" y="128" width="1" height="24" fill="#32cd32"/>
<rect x="415" y="141" width="3" height="3" fill="#32cd32"/>
<rect x="420" y="130" width="1" height="17" fill="#ff0000"/>
<rect x="419" y="133" width="3" height="11" fill="#ff0000"/>
<rect x="420" y="134" width="1" height="9" fill="#ff4a00"/>
<rect x="424" y="124" width="1" height="17" fill="#ff0000"/>
<rect x="423" y="133" width="3" height="3" fill="#ff0000"/>
<rect x="424" y="134" width="1" height="1" fill="#ff4a00"/>
<rect x="428" y="118" width="1" height="22" fill="#32cd32"/>
<rect x="427" y="134" width="3" height="2" fill="#32cd32"/>
<rect x="432" y="133" width="1" height="22" fill="#32cd32"/>
<rect x="431" y="136" width="3" height="11" fill="#32cd32"/>
<rect x="436" y="143" width="1" height="21" fill="#32cd32"/>
<rect x="435" y="146" width="3" height="13" fill="#32cd32"/>
<rect x="440" y="152" width="1" height="31" fill="#32cd32"/>
<rect x="439" y="157" width="3" height="15" fill="#32cd32"/>
<rect x="444" y="167" width="1" height="18" fill="#32cd32"/>
<rect x="443" y="169" width="3" height="12" fill="#32cd32"/>
<rect x="448" y="166" width="1" height="17" fill="#ff0000"/>
<rect x="447" y="168" width="3" height="13" fill="#ff0000"/>
<rect x="448" y="169" width="1" height="11" fill="#ff4a00"/>
<rect x="452" y="161" width="1" height="29" fill="#32cd32"/>
<rect x="451" y="168" width="3" height="10" fill="#32cd32"/>
<rect x="456" y="166" width="1" height="24" fill="#ff0000"/>
<rect x="455" y="172" width="3" height="6" fill="#ff0000"/>
<rect x="456" y="173" width="1" height="4" fill="#ff4a00"/>
<rect x="460" y="164" width="1" height="16" fill="#32cd32"/>
<rect x="459" y="171" width="3" height="6" fill="#32cd32"/>
<rect x="464" y="165" width="1" height="13" fill="#ff0000"/>
<rect x="463" y="167" width="3" height="10" fill="#ff0000"/>
<rect x="464" y="168" width="1" height="8" fill="#ff4a00"/>
<rect x="468" y="167" width="1" height="10" fill="#32cd32"/>
<rect x="467" y="169" width="3" height="7" fill="#32cd32"/>
<rect x="472" y="165" width="1" height="16" fill="#ff0000"/>
<rect x="471" y="166" width="3" height="9" fill="#ff0000"/>
<rect x="472" y="167" width="1" height="7" fill="#ff4a00"/>
<rect x="476" y="153" width="1" height="26" fill="#ff0000"/>
<rect x="475" y="160" width="3" height="10" fill="#ff0000"/>
<rect x="476" y="161" width="1" height="8" fill="#ff4a00"/>
<rect x="480" y="144" width="1" height="20" fill="#ff0000"/>
<rect x="479" y="146" width="3" height="16" fill="#ff0000"/>
<rect x="480" y="147" width="1" height="14" fill="#ff4a00"/>
<rect x="484" y="126" width="1" height="24" fill="#ff0000"/>
<rect x="483" y="134" width="3" height="15" fill="#ff0000"/>
<rect x="484" y="135" width="1" height="13" fill="#ff4a00"/>
<rect x="488" y="128" width="1" height="14" fill="#32cd32"/>
<rect x="487" y="134" width="3" height="4" fill="#32cd32"/>
<rect x="492" y="125" width="1" height="17" fill="#ff0000"/>
<rect x="491" y="127" width="3" height="10" fill="#ff0000"/>
<rect x="492" y="128" width="1" height="8" fill="#ff4a00"/>
<rect x="496" y="130" width="1" height="16" fill="#32cd32"/>
<rect x="495" y="137" width="3" height="4" fill="#32cd32"/>
<rect x="500" y="138" width="1" height="26" fill="#32cd32"/>
<rect x="499" y="140" width="3" height="19" fill="#32cd32"/>
<rect x="504" y="143" width="1" height="22" fill="#ff0000"/>
<rect x="503" y="145" width="3" height="15" fill="#ff0000"/>
<rect x="504" y="146" width="1" height="13" fill="#ff4a00"/>
<rect x="508" y="140" width="1" height="13" fill="#32cd32"/>
<rect x="507" y="143" width="3" height="7" fill="#32cd32"/>
<rect x="512" y="134" width="1" height="17" fill="#ff0000"/>
<rect x="511" y="138" width="3" height="11" fill="#ff0000"/>
<rect x="512" y="139" width="1" height="9" fill="#ff4a00"/>
<rect x="516" y="113" width="1" height="31" fill="#ff0000"/>
<rect x="515" y="129" width="3" height="10" fill="#ff0000"/>
<rect x="516" y="130" width="1" height="8" fill="#ff4a00"/>
<rect x="520" y="119" width="1" height="18" fill="#32cd32"/>
<rect x="519" y="129" width="3" height="5" fill="#32cd32"/>
<rect x="524" y="115" width="1" height="45" fill="#ff0000"/>
<rect x="523" y="126" width="3" height="9" fill="#ff0000"/>
<rect x="524" y="127" width="1" height="7" fill="#ff4a00"/>
<rect x="528" y="120" width="1" height="18" fill="#32cd32"/>
<rect x="527" y="126" width="3" height="8" fill="#32cd32"/>
<rect x="532" y="112" width="1" height="23" fill="#ff0000"/>
<rect x="531" y="113" width="3" height="21" fill="#ff0000"/>
<rect x="532" y="114" width="1" height="19" fill="#ff4a00"/>
<rect x="536" y="100" width="1" height="16" fill="#ff0000"/>
<rect x="535" y="105" width="3" height="10" fill="#ff0000"/>
<rect x="536" y="106" width="1" height="8" fill="#ff4a00"/>
<rect x="540" y="104" width="1" height="15" fill="#32cd32"/>
<rect x="539" y="104" width="3" height="13" fill="#32cd32"/>
<rect x="544" y="108" width="1" height="15" fill="#32cd32"/>
<rect x="543" y="113" width="3" height="3" fill="#32cd32"/>
<rect x="548" y="109" width="1" height="15" fill="#ff0000"/>
<rect x="547" y="112" width="3" height="4" fill="#ff0000"/>
<rect x="548" y="113" width="1" height="2" fill="#ff4a00"/>
<rect x="552" y="104" width="1" height="13" fill="#ff0000"/>
<rect x="551" y="111" width="3" height="2" fill="#ff0000"/>
<rect x="556" y="99" width="1" height="19" fill="#ff0000"/>
<rect x="555" y="106" width="3" height="7" fill="#ff0000"/>
<rect x="556" y="107" width="1" height="5" fill="#ff4a00"/>
<rect x="560" y="104" width="1" height="56" fill="#32cd32"/>
<rect x="559" y="107" width="3" height="44" fill="#32cd32"/>
<rect x="564" y="139" width="1" height="14" fill="#ff0000"/>
<rect x="563" y="142" width="3" height="8" fill="#ff0000"/>
<rect x="564" y="143" width="1" height="6" fill="#ff4a00"/>
<rect x="568" y="129" width="1" height="21" fill="#32cd32"/>
<rect x="567" y="142" width="3" height="3" fill="#32cd32"/>
<rect x="572" y="142" width="1" height="23" fill="#32cd32"/>
<rect x="571" y="144" width="3" height="5" fill="#32cd32"/>
<rect x="576" y="130" width="1" height="21" fill="#ff0000"/>
<rect x="575" y="137" width="3" height="12" fill="#ff0000"/>
<rect x="576" y="138" width="1" height="10" fill="#ff4a00"/>
<rect x="580" y="135" width="1" height="27" fill="#32cd32"/>
<rect x="579" y="137" width="3" height="11" fill="#32cd32"/>
<rect x="584" y="139" width="1" height="22" fill="#32cd32"/>
<rect x="583" y="147" width="3" height="9" fill="#32cd32"/>
<rect x="588" y="140" width="1" height="18" fill="#ff0000"/>
<rect x="587" y="150" width="3" height="5" fill="#ff0000"/>
<rect x="588" y="151" width="1" height="3" fill="#ff4a00"/>
<rect x="592" y="132" width="1" height="24" fill="#ff0000"/>
<rect x="591" y="142" width="3" height="13" fill="#ff0000"/>
<rect x="592" y="143" width="1" height="11" fill="#ff4a00"/>
<rect x="596" y="132" width="1" height="15" fill="#ff0000"/>
<rect x="595" y="134" width="3" height="9" fill="#ff0000"/>
<rect x="596" y="135" width="1" height="7" fill="#ff4a00"/>
<rect x="600" y="125" width="1" height="21" fill="#ff0000"/>
<rect x="599" y="132" width="3" height="3" fill="#ff0000"/>
<rect x="600" y="133" width="1" height="1" fill="#ff4a00"/>
<rect x="604" y="105" width="1" height="40" fill="#ff0000"/>
<rect x="603" y="106" width="3" height="29" fill="#ff0000"/>
<rect x="604" y="107" width="1" height="27" fill="#ff4a00"/>
<rect x="608" y="104" width="1" height="25" fill="#32cd32"/>
<rect x="607" y="106" width="3" height="17" fill="#32cd32"/>
<rect x="612" y="173" width="1" height="22" fill="#32cd32"/>
<rect x="611" y="188" width="3" height="6" fill="#32cd32"/>
<rect x="616" y="191" width="1" height="90" fill="#32cd32"/>
<rect x="615" y="192" width="3" height="70" fill="#32cd32"/>
<rect x="620" y="244" width="1" height="36" fill="#ff0000"/>
<rect x="619" y="248" width="3" height="14" fill="#ff0000"/>
<rect x="620" y="249" width="1" height="12" fill="#ff4a00"/>
<rect x="624" y="238" width="1" height="42" fill="#32cd32"/>
<rect x="623" y="248" width="3" height="26" fill="#32cd32"/>
<rect x="628" y="272" width="1" height="22" fill="#32cd32"/>
<rect x="627" y="273" width="3" height="5" fill="#32cd32"/>
<rect x="632" y="274" width="1" height="20" fill="#32cd32"/>
<rect x="631" y="276" width="3" height="16" fill="#32cd32"/>
<rect x="636" y="271" width="1" height="69" fill="#32cd32"/>
<rect x="635" y="291" width="3" height="48" fill="#32cd32"/>
<rect x="640" y="337" width="1" height="47" fill="#32cd32"/>
<rect x="639" y="338" width="3" height="22" fill="#32cd32"/>
<rect x="644" y="356" width="1" height="43" fill="#32cd32"/>
<rect x="643" y="359" width="3" height="17" fill="#32cd32"/>
<rect x="648" y="349" width="1" height="52" fill="#ff0000"/>
<rect x="647" y="355" width="3" height="20" fill="#ff0000"/>
<rect x="648" y="356" width="1" height="18" fill="#ff4a00"/>
<rect x="652" y="336" width="1" height="31" fill="#ff0000"/>
<rect x="651" y="354" width="3" height="3" fill="#ff0000"/>
<rect x="652" y="355" width="1" height="1" fill="#ff4a00"/>
<rect x="656" y="334" width="1" height="26" fill="#ff0000"/>
<rect x="655" y="335" width="3" height="22" fill="#ff0000"/>
<rect x="656" y="336" width="1" height="20" fill="#ff4a00"/>
<rect x="660" y="302" width="1" height="52" fill="#ff0000"/>
<rect x="659" y="305" width="3" height="31" fill="#ff0000"/>
<rect x="660" y="306" width="1" height="29" fill="#ff4a00"/>
<rect x="664" y="293" width="1" height="28" fill="#32cd32"/>
<rect x="663" y="305" width="3" height="6" fill="#32cd32"/>
<rect x="668" y="302" width="1" height="31" fill="#32cd32"/>
<rect x="667" y="310" width="3" height="23" fill="#32cd32"/>
<rect x="672" y="312" width="1" height="21" fill="#ff0000"/>
<rect x="671" y="318" width="3" height="15" fill="#ff0000"/>
<rect x="672" y="319" width="1" height="13" fill="#ff4a00"/>
<rect x="676" y="313" width="1" height="18" fill="#32cd32"/>
<rect x="675" y="319" width="3" height="2" fill="#32cd32"/>
<rect x="680" y="305" width="1" height="27" fill="#ff0000"/>
<rect x="679" y="307" width="3" height="14" fill="#ff0000"/>
<rect x="680" y="308" width="1" height="12" fill="#ff4a00"/>
<rect x="684" y="265" width="1" height="43" fill="#ff0000"/>
<rect x="683" y="266" width="3" height="42" fill="#ff0000"/>
<rect x="684" y="267" width="1" height="40" fill="#ff4a00"/>
<rect x="688" y="228" width="1" height="50" fill="#ff0000"/>
<rect x="687" y="265" width="3" height="2" fill="#ff0000"/>
<rect x="692" y="216" width="1" height="59" fill="#ff0000"/>
<rect x="691" y="240" width="3" height="25" fill="#ff0000"/>
<rect x="692" y="241" width="1" height="23" fill="#ff4a00"/>
<rect x="696" y="232" width="1" height="48" fill="#32cd32"/>
<rect x="695" y="240" width="3" height="22" fill="#32cd32"/>
<rect x="700" y="241" width="1" height="30" fill="#ff0000"/>
<rect x="699" y="260" width="3" height="2" fill="#ff0000"/>
<rect x="704" y="260" width="1" height="27" fill="#32cd32"/>
<rect x="703" y="260" width="3" height="20" fill="#32cd32"/>
<rect x="708" y="254" width="1" height="55" fill="#32cd32"/>
<rect x="707" y="279" width="3" height="20" fill="#32cd32"/>
<rect x="712" y="267" width="1" height="38" fill="#ff0000"/>
<rect x="711" y="270" width="3" height="31" fill="#ff0000"/>
<rect x="712" y="271" width="1" height="29" fill="#ff4a00"/>
<rect x="716" y="251" width="1" height="26" fill="#ff0000"/>
<rect x="715" y="254" width="3" height="17" fill="#ff0000"/>
<rect x="716" y="255" width="1" height="15" fill="#ff4a00"/>
<rect x="720" y="254" width="1" height="43" fill="#32cd32"/>
<rect x="719" y="254" width="3" height="18" fill="#32cd32"/>
<rect x="724" y="251" width="1" height="25" fill="#ff0000"/>
<rect x="723" y="268" width="3" height="3" fill="#ff0000"/>
<rect x="724" y="269" width="1" height="1" fill="#ff4a00"/>
<rect x="727" y="268" width="3" height="1" fill="#000"/>
<rect x="732" y="226" width="1" height="32" fill="#32cd32"/>
<rect x="731" y="226" width="3" height="12" fill="#32cd32"/>
<rect x="736" y="187" width="1" height="53" fill="#ff0000"/>
<rect x="735" y="207" width="3" height="33" fill="#ff0000"/>
<rect x="736" y="208" width="1" height="31" fill="#ff4a00"/>
<rect x="740" y="193" width="1" height="22" fill="#ff0000"/>
<rect x="739" y="203" width="3" height="5" fill="#ff0000"/>
<rect x="740" y="204" width="1" height="3" fill="#ff4a00"/>
<rect x="744" y="188" width="1" height="25" fill="#ff0000"/>
<rect x="743" y="189" width="3" height="15" fill="#ff0000"/>
<rect x="744" y="190" width="1" height="13" fill="#ff4a00"/>
<rect x="748" y="185" width="1" height="21" fill="#32cd32"/>
<rect x="747" y="189" width="3" height="10" fill="#32cd32"/>
<rect x="752" y="195" width="1" height="15" fill="#32cd32"/>
<rect x="751" y="197" width="3" height="4" fill="#32cd32"/>
<rect x="756" y="181" width="1" height="59" fill="#32cd32"/>
<rect x="755" y="199" width="3" height="33" fill="#32cd32"/>
<rect x="760" y="216" width="1" height="27" fill="#ff0000"/>
<rect x="759" y="224" width="3" height="8" fill="#ff0000"/>
<rect x="760" y="225" width="1" height="6" fill="#ff4a00"/>
<rect x="764" y="204" width="1" height="46" fill="#32cd32"/>
<rect x="763" y="224" width="3" height="18" fill="#32cd32"/>
<rect x="768" y="221" width="1" height="27" fill="#ff0000"/>
<rect x="767" y="222" width="3" height="20" fill="#ff0000"/>
<rect x="768" y="223" width="1" height="18" fill="#ff4a00"/>
<rect x="772" y="209" width="1" height="26" fill="#32cd32"/>
<rect x="771" y="223" width="3" height="3" fill="#32cd32"/>
<rect x="776" y="215" width="1" height="37" fill="#32cd32"/>
<rect x="775" y="225" width="3" height="27" fill="#32cd32"/>
<rect x="780" y="246" width="1" height="37" fill="#32cd32"/>
<rect x="779" y="250" width="3" height="13" fill="#32cd32"/>
<rect x="784" y="247" width="1" height="26" fill="#ff0000"/>
<rect x="783" y="259" width="3" height="4" fill="#ff0000"/>
<rect x="784" y="260" width="1" height="2" fill="#ff4a00"/>
<rect x="788" y="250" width="1" height="15" fill="#ff0000"/>
<rect x="787" y="257" width="3" height="4" fill="#ff0000"/>
<rect x="788" y="258" width="1" height="2" fill="#ff4a00"/>
<rect x="792" y="255" width="1" height="42" fill="#32cd32"/>
<rect x="791" y="257" width="3" height="33" fill="#32cd32"/>
<rect x="796" y="282" width="1" height="24" fill="#32cd32"/>
<rect x="795" y="289" width="3" height="7" fill="#32cd32"/>
<rect x="800" y="291" width="1" height="16" fill="#32cd32"/>
<rect x="799" y="294" width="3" height="9" fill="#32cd32"/>
<rect x="804" y="286" width="1" height="20" fill="#ff0000"/>
<rect x="803" y="295" width="3" height="8" fill="#ff0000"/>
<rect x="804" y="296" width="1" height="6" fill="#ff4a00"/>
<rect x="808" y="293" width="1" height="38" fill="#32cd32"/>
<rect x="807" y="295" width="3" height="25" fill="#32cd32"/>
<rect x="812" y="270" width="1" height="51" fill="#ff0000"/>
<rect x="811" y="282" width="3" height="38" fill="#ff0000"/>
<rect x="812" y="283" width="1" height="36" fill="#ff4a00"/>
<rect x="816" y="259" width="1" height="38" fill="#ff0000"/>
<rect x="815" y="268" width="3" height="16" fill="#ff0000"/>
<rect x="816" y="269" width="1" height="14" fill="#ff4a00"/>
<rect x="820" y="268" width="1" height="17" fill="#32cd32"/>
<rect x="819" y="269" width="3" height="13" fill="#32cd32"/>
<rect x="824" y="270" width="1" height="15" fill="#ff0000"/>
<rect x="823" y="274" width="3" height="8" fill="#ff0000"/>
<rect x="824" y="275" width="1" height="6" fill="#ff4a00"/>
<rect x="828" y="250" width="1" height="29" fill="#ff0000"/>
<rect x="827" y="260" width="3" height="16" fill="#ff0000"/>
<rect x="828" y="261" width="1" height="14" fill="#ff4a00"/>
<rect x="832" y="234" width="1" height="30" fill="#ff0000"/>
<rect x="831" y="240" width="3" height="22" fill="#ff0000"/>
<rect x="832" y="241" width="1" height="20" fill="#ff4a00"/>
<rect x="836" y="211" width="1" height="35" fill="#ff0000"/>
<rect x="835" y="224" width="3" height="17" fill="#ff0000"/>
<rect x="836" y="225" width="1" height="15" fill="#ff4a00"/>
<rect x="840" y="205" width="1" height="25" fill="#ff0000"/>
<rect x="839" y="223" width="3" height="2" fill="#ff0000"/>
<rect x="844" y="222" width="1" height="19" fill="#32cd32"/>
<rect x="843" y="222" width="3" height="4" fill="#32cd32"/>
<rect x="848" y="220" width="1" height="24" fill="#32cd32"/>
<rect x="847" y="224" width="3" height="19" fill="#32cd32"/>
<rect x="852" y="230" width="1" height="18" fill="#ff0000"/>
<rect x="851" y="234" width="3" height="8" fill="#ff0000"/>
<rect x="852" y="235" width="1" height="6" fill="#ff4a00"/>
<rect x="856" y="226" width="1" height="19" fill="#32cd32"/>
<rect x="855" y="234" width="3" height="8" fill="#32cd32"/>
<rect x="860" y="229" width="1" height="14" fill="#ff0000"/>
<rect x="859" y="232" width="3" height="10" fill="#ff0000"/>
<rect x="860" y="233" width="1" height="8" fill="#ff4a00"/>
<rect x="864" y="229" width="1" height="14" fill="#32cd32"/>
<rect x="863" y="233" width="3" height="3" fill="#32cd32"/>
<rect x="868" y="229" width="1" height="16" fill="#32cd32"/>
<rect x="867" y="235" width="3" height="5" fill="#32cd32"/>
<rect x="872" y="234" width="1" height="29" fill="#32cd32"/>
<rect x="871" y="238" width="3" height="15" fill="#32cd32"/>
<rect x="876" y="231" width="1" height="24" fill="#ff0000"/>
<rect x="875" y="239" width="3" height="14" fill="#ff0000"/>
<rect x="876" y="240" width="1" height="12" fill="#ff4a00"/>
<rect x="880" y="234" width="1" height="23" fill="#32cd32"/>
<rect x="879" y="238" width="3" height="17" fill="#32cd32"/>
<rect x="884" y="234" width="1" height="27" fill="#ff0000"/>
<rect x="883" y="235" width="3" height="20" fill="#ff0000"/>
<rect x="884" y="236" width="1" height="18" fill="#ff4a00"/>
<rect x="888" y="233" width="1" height="24" fill="#32cd32"/>
<rect x="887" y="236" width="3" height="15" fill="#32cd32"/>
<rect x="892" y="249" width="1" height="16" fill="#32cd32"/>
<rect x="891" y="249" width="3" height="9" fill="#32cd32"/>
<rect x="896" y="248" width="1" height="19" fill="#32cd32"/>
<rect x="895" y="254" width="3" height="8" fill="#32cd32"/>
<rect x="900" y="242" width="1" height="23" fill="#ff0000"/>
<rect x="899" y="243" width="3" height="18" fill="#ff0000"/>
<rect x="900" y="244" width="1" height="16" fill="#ff4a00"/>
<rect x="904" y="235" width="1" height="15" fill="#ff0000"/>
<rect x="903" y="240" width="3" height="5" fill="#ff0000"/>
<rect x="904" y="241" width="1" height="3" fill="#ff4a00"/>
<rect x="908" y="235" width="1" height="21" fill="#32cd32"/>
<rect x="907" y="240" width="3" height="8" fill="#32cd32"/>
<rect x="912" y="220" width="1" height="44" fill="#ff0000"/>
<rect x="911" y="223" width="3" height="25" fill="#ff0000"/>
<rect x="912" y="224" width="1" height="23" fill="#ff4a00"/>
<rect x="916" y="213" width="1" height="22" fill="#32cd32"/>
<rect x="915" y="222" width="3" height="3" fill="#32cd32"/>
<rect x="920" y="200" width="1" height="34" fill="#ff0000"/>
<rect x="919" y="211" width="3" height="14" fill="#ff0000"/>
<rect x="920" y="212" width="1" height="12" fill="#ff4a00"/>
<rect x="924" y="197" width="1" height="32" fill="#32cd32"/>
<rect x="923" y="211" width="3" height="14" fill="#32cd32"/>
<rect x="928" y="220" width="1" height="53" fill="#32cd32"/>
<rect x="927" y="222" width="3" height="37" fill="#32cd32"/>
<rect x="932" y="234" width="1" height="32" fill="#ff0000"/>
<rect x="931" y="235" width="3" height="25" fill="#ff0000"/>
<rect x="932" y="236" width="1" height="23" fill="#ff4a00"/>
<rect x="936" y="228" width="1" height="26" fill="#32cd32"/>
<rect x="935" y="235" width="3" height="13" fill="#32cd32"/>
<rect x="940" y="246" width="1" height="7" fill="#ff0000"/>
<rect x="939" y="247" width="3" height="2" fill="#ff0000"/>
<rect x="944" y="239" width="1" height="25" fill="#ff0000"/>
<rect x="943" y="244" width="3" height="4" fill="#ff0000"/>
<rect x="944" y="245" width="1" height="2" fill="#ff4a00"/>
<rect x="948" y="215" width="1" height="34" fill="#ff0000"/>
<rect x="947" y="220" width="3" height="25" fill="#ff0000"/>
<rect x="948" y="221" width="1" height="23" fill="#ff4a00"/>
<rect x="952" y="198" width="1" height="26" fill="#ff0000"/>
<rect x="951" y="208" width="3" height="13" fill="#ff0000"/>
<rect x="952" y="209" width="1" height="11" fill="#ff4a00"/>
<rect x="956" y="197" width="1" height="23" fill="#ff0000"/>
<rect x="955" y="201" width="3" height="9" fill="#ff0000"/>
<rect x="956" y="202" width="1" height="7" fill="#ff4a00"/>
<rect x="960" y="186" width="1" height="22" fill="#ff0000"/>
<rect x="959" y="190" width="3" height="13" fill="#ff0000"/>
<rect x="960" y="191" width="1" height="11" fill="#ff4a00"/>
<rect x="964" y="185" width="1" height="48" fill="#32cd32"/>
<rect x="963" y="185" width="3" height="41" fill="#32cd32"/>
<rect x="968" y="213" width="1" height="25" fill="#ff0000"/>
<rect x="967" y="218" width="3" height="6" fill="#ff0000"/>
<rect x="968" y="219" width="1" height="4" fill="#ff4a00"/>
<rect x="972" y="214" width="1" height="15" fill="#ff0000"/>
<rect x="971" y="216" width="3" height="4" fill="#ff0000"/>
<rect x="972" y="217" width="1" height="2" fill="#ff4a00"/>
<rect x="976" y="214" width="1" height="17" fill="#32cd32"/>
<rect x="975" y="216" width="3" height="10" fill="#32cd32"/>
<rect x="980" y="220" width="1" height="15" fill="#32cd32"/>
<rect x="979" y="223" width="3" height="11" fill="#32cd32"/>
<rect x="984" y="230" width="1" height="5" fill="#32cd32"/>
<rect x="983" y="231" width="3" height="3" fill="#32cd32"/>
<rect x="988" y="244" width="1" height="6" fill="#ff0000"/>
<rect x="987" y="244" width="3" height="4" fill="#ff0000"/>
<rect x="988" y="245" width="1" height="2" fill="#ff4a00"/>
<rect x="992" y="233" width="1" height="19" fill="#ff0000"/>
<rect x="991" y="238" width="3" height="9" fill="#ff0000"/>
<rect x="992" y="239" width="1" height="7" fill="#ff4a00"/>
<rect x="996" y="235" width="1" height="23" fill="#32cd32"/>
<rect x="995" y="240" width="3" height="18" fill="#32cd32"/>
<rect x="1000" y="236" width="1" height="22" fill="#ff0000"/>
<rect x="999" y="246" width="3" height="11" fill="#ff0000"/>
<rect x="1000" y="247" width="1" height="9" fill="#ff4a00"/>
<rect x="1004" y="243" width="1" height="24" fill="#32cd32"/>
<rect x="1003" y="246" width="3" height="21" fill="#32cd32"/>
<rect x="1008" y="241" width="1" height="28" fill="#ff0000"/>
<rect x="1007" y="245" width="3" height="22" fill="#ff0000"/>
<rect x="1008" y="246" width="1" height="20" fill="#ff4a00"/>
<rect x="1012" y="238" width="1" height="15" fill="#32cd32"/>
<rect x="1011" y="245" width="3" height="3" fill="#32cd32"/>
<rect x="1016" y="230" width="1" height="30" fill="#ff0000"/>
<rect x="1015" y="242" width="3" height="5" fill="#ff0000"/>
<rect x="1016" y="243" width="1" height="3" fill="#ff4a00"/>
<rect x="1020" y="236" width="1" height="14" fill="#ff0000"/>
<rect x="1019" y="236" width="3" height="8" fill="#ff0000"/>
<rect x="1020" y="237" width="1" height="6" fill="#ff4a00"/>
<rect x="1024" y="237" width="1" height="59" fill="#32cd32"/>
<rect x="1023" y="237" width="3" height="41" fill="#32cd32"/>
<rect x="1028" y="258" width="1" height="20" fill="#ff0000"/>
<rect x="1027" y="269" width="3" height="9" fill="#ff0000"/>
<rect x="1028" y="270" width="1" height="7" fill="#ff4a00"/>
<rect x="1032" y="266" width="1" height="23" fill="#32cd32"/>
<rect x="1031" y="272" width="3" height="16" fill="#32cd32"/>
<rect x="1036" y="285" width="1" height="10" fill="#32cd32"/>
<rect x="1035" y="286" width="3" height="8" fill="#32cd32"/>
<rect x="4" y="100" width="1" height="14" fill="#32cd32"/>
<rect x="24" y="117" width="1" height="3" fill="#32cd32"/>
<rect x="104" y="117" width="1" height="3" fill="#32cd32"/>
<rect x="107" y="117" width="3" height="21" fill="#32cd32"/>
<rect x="108" y="117" width="1" height="23" fill="#32cd32"/>
<polyline points="127.0,117.0 129.0,124.0 133.0,137.0 137.0,150.0 140.5,161.0 144.0,170.0 145.2,175.0 148.0,178.7 152.0,189.8 156.0,197.2 160.0,204.6 162.5,208.3 164.0,210.5 168.0,211.2 174.0,210.5 177.0,211.6 180.0,212.4 183.0,209.8 186.0,204.6 188.0,200.0 190.0,197.2 193.0,193.5 196.0,189.8 198.0,188.7 214.7,188.7 216.5,186.0 219.0,184.6 224.0,184.2 228.0,182.0 232.0,179.4 236.0,176.8 238.0,175.0 241.0,172.0 246.6,166.7 257.7,155.6 267.0,140.8 274.4,127.9 281.8,116.8 289.0,113.4 297.5,109.4 314.0,109.4 320.6,113.0 329.9,120.5 336.3,129.7 344.0,133.0 349.6,141.0 357.0,147.6 364.4,148.0 370.9,155.9 379.0,160.5 383.8,162.4 394.0,161.4 401.4,159.6 408.8,156.4 420.8,155.0 426.0,150.0 431.0,146.6 438.0,147.6 447.6,151.0 456.8,153.0 468.0,158.7 477.0,163.3 480.9,164.6 486.0,163.8 493.8,160.5 501.0,157.0 508.6,152.0 516.0,147.6 523.0,142.6 530.0,138.0 536.0,134.0 550.0,128.8 556.0,123.8 565.0,123.8 578.0,125.0 590.0,129.8 596.0,134.4 603.0,136.0 608.0,136.0 612.0,141.8 618.0,154.7 621.0,160.0 623.0,165.0 626.0,172.0 630.0,183.0 636.0,203.0 640.0,217.0 646.0,237.0 650.0,253.0 654.0,269.0 658.0,283.0 660.0,291.0 664.0,305.0 668.0,315.0 672.0,320.0 676.0,324.0 680.0,326.0 684.0,326.0 688.0,324.8 690.0,323.0 694.0,315.0 698.0,306.0 702.0,300.0 706.0,295.0 710.0,290.0 714.0,286.0 720.0,281.0 726.0,275.0 730.0,271.0 734.0,264.0 738.0,258.0 742.0,253.0 746.0,248.0 750.0,244.0 756.0,240.0 760.0,237.0 764.0,233.0 768.0,230.0 772.0,227.0 776.0,225.5 788.0,225.8 790.0,227.9 795.0,235.4 800.0,244.2 804.0,252.4 808.0,261.2 812.0,265.8 816.0,268.2 820.0,270.5 824.0,274.0 826.0,276.9 829.0,278.3 832.0,277.5 838.0,274.0 845.0,270.5 850.0,266.4 856.0,260.0 860.0,254.0 864.0,248.9 867.0,245.4 872.0,243.6 876.0,241.3 880.0,237.8 884.0,234.9 886.0,235.4 890.0,238.4 893.0,240.7 897.0,241.9 902.0,242.9 910.0,242.9 918.0,241.0 928.0,240.0 940.0,240.0 946.0,238.8 952.0,233.6 958.0,229.0 964.0,225.3 975.0,224.7 984.0,224.0 992.0,224.4 1000.0,225.3 1004.0,227.7 1010.0,232.7 1016.0,237.7 1022.0,241.0 1028.0,247.5 1036.0,254.8" fill="none" stroke="#ff0000" stroke-width="1"/>
<polyline points="4.0,121.0 8.0,117.0" fill="none" stroke="#ff0000" stroke-width="1"/>
<rect x="441" y="183" width="657" height="2" fill="#99cc00"/>
<rect x="562" y="157" width="401" height="2" fill="#ff2828"/>
<rect x="669" y="332" width="420" height="2" fill="#2281e0"/>
</g>
<g shape-rendering="crispEdges">
<linearGradient id="gbigu" gradientUnits="userSpaceOnUse" x1="0" y1="75" x2="0" y2="115"><stop offset="0" stop-color="#dd2c2c"/><stop offset="0.6" stop-color="#c41414"/><stop offset="1" stop-color="#ae0202"/></linearGradient>
<linearGradient id="gtabu" gradientUnits="userSpaceOnUse" x1="0" y1="51" x2="0" y2="76"><stop offset="0" stop-color="#f84e4e"/><stop offset="1" stop-color="#e03030"/></linearGradient>
<rect x="7" y="51" width="52" height="25" fill="#c00000"/>
<rect x="8" y="52" width="50" height="24" fill="url(#gtabu)"/>
<rect x="174" y="51" width="52" height="25" fill="#c00000"/>
<rect x="175" y="52" width="50" height="24" fill="url(#gtabu)"/>
<rect x="7" y="75" width="109" height="40" fill="#c00000"/>
<rect x="8" y="76" width="107" height="38" fill="url(#gbigu)"/>
<rect x="8" y="75" width="50" height="1" fill="#dd2c2c"/>
<rect x="118" y="75" width="108" height="40" fill="#c00000"/>
<rect x="119" y="76" width="106" height="38" fill="url(#gbigu)"/>
<rect x="175" y="75" width="50" height="1" fill="#dd2c2c"/>
<rect x="11" y="74" width="45" height="1" fill="#a30a0a"/>
<rect x="11" y="75" width="45" height="1" fill="#f47070"/>
<rect x="178" y="74" width="44" height="1" fill="#a30a0a"/>
<rect x="178" y="75" width="44" height="1" fill="#f47070"/>
<rect x="61" y="51" width="111" height="22" fill="#a8acb4"/>
<rect x="62" y="52" width="109" height="20" fill="#ffffff"/>
<rect x="62" y="52" width="19" height="20" fill="#f4f4f4"/>
<rect x="63" y="53" width="17" height="18" fill="url(#gbtn)"/>
<rect x="81" y="52" width="1" height="20" fill="#a8acb4"/>
<rect x="152" y="52" width="19" height="20" fill="#f4f4f4"/>
<rect x="153" y="53" width="17" height="18" fill="url(#gbtn)"/>
<rect x="151" y="52" width="1" height="20" fill="#a8acb4"/>
</g>
<path d="M68.5 60 L74.5 60 L71.5 63 Z" fill="#5066c4"/>
<path d="M158 63 L163.5 63 L160.75 60 Z" fill="#5066c4"/>
<text x="122.6" y="66" font-size="12" fill="#000" letter-spacing="0.282" xml:space="preserve">0.50</text>
<text x="19" y="67" font-size="12.2" fill="#fff" textLength="26.40" lengthAdjust="spacingAndGlyphs" xml:space="preserve">SELL</text>
<text x="187.2" y="67" font-size="12.2" fill="#fff" textLength="24.60" lengthAdjust="spacingAndGlyphs" xml:space="preserve">BUY</text>
<text x="26.6" y="106" font-size="12.4" fill="#fff" letter-spacing="0.156" font-weight="bold" xml:space="preserve">6.87</text>
<text x="54" y="106" font-size="35.5" fill="#fff" stroke="url(#gbigu)" stroke-width="0.55" textLength="36.5" lengthAdjust="spacingAndGlyphs">23</text>
<text x="93.6" y="90" font-size="12" fill="#fff" font-weight="bold" xml:space="preserve">2</text>
<text x="136.6" y="106" font-size="12.4" fill="#fff" letter-spacing="0.156" font-weight="bold" xml:space="preserve">6.88</text>
<text x="163.5" y="106" font-size="35.5" fill="#fff" stroke="url(#gbigu)" stroke-width="0.55" textLength="38" lengthAdjust="spacingAndGlyphs">18</text>
<text x="204.6" y="90" font-size="12" fill="#fff" font-weight="bold" xml:space="preserve">1</text>
<path d="M7.8 42.4 L15 42.4 L11.4 38.4 Z" fill="#000"/>
<text x="19" y="43" font-size="9.9" fill="#000" textLength="56.00" lengthAdjust="spacingAndGlyphs" stroke="#000" stroke-width="0.12" xml:space="preserve">USDCNH,H4</text>
<text x="80.5" y="43" font-size="9.9" fill="#000" textLength="141.50" lengthAdjust="spacingAndGlyphs" stroke="#000" stroke-width="0.12" xml:space="preserve">6.87476 6.87545 6.87184 6.87232</text>
<text x="8" y="423" font-size="9.9" fill="#000" textLength="154.00" lengthAdjust="spacingAndGlyphs" stroke="#000" stroke-width="0.12" xml:space="preserve">MACD(12,26,9) -0.005117 -0.002524</text>
<text x="8" y="494" font-size="9.9" fill="#000" textLength="68.00" lengthAdjust="spacingAndGlyphs" stroke="#000" stroke-width="0.12" xml:space="preserve">RSI(14) 36.1065</text>
<text x="1310" y="46" font-size="9.9" fill="#000" textLength="33.00" lengthAdjust="spacingAndGlyphs" stroke="#000" stroke-width="0.12" xml:space="preserve">6.98300</text>
<text x="1310" y="79" font-size="9.9" fill="#000" textLength="33.00" lengthAdjust="spacingAndGlyphs" stroke="#000" stroke-width="0.12" xml:space="preserve">6.96820</text>
<text x="1310" y="112" font-size="9.9" fill="#000" textLength="33.00" lengthAdjust="spacingAndGlyphs" stroke="#000" stroke-width="0.12" xml:space="preserve">6.95380</text>
<text x="1310" y="145" font-size="9.9" fill="#000" textLength="33.00" lengthAdjust="spacingAndGlyphs" stroke="#000" stroke-width="0.12" xml:space="preserve">6.93900</text>
<text x="1310" y="178" font-size="9.9" fill="#000" textLength="33.00" lengthAdjust="spacingAndGlyphs" stroke="#000" stroke-width="0.12" xml:space="preserve">6.92460</text>
<text x="1310" y="211" font-size="9.9" fill="#000" textLength="33.00" lengthAdjust="spacingAndGlyphs" stroke="#000" stroke-width="0.12" xml:space="preserve">6.90980</text>
<text x="1310" y="244" font-size="9.9" fill="#000" textLength="33.00" lengthAdjust="spacingAndGlyphs" stroke="#000" stroke-width="0.12" xml:space="preserve">6.89500</text>
<text x="1310" y="277" font-size="9.9" fill="#000" textLength="33.00" lengthAdjust="spacingAndGlyphs" stroke="#000" stroke-width="0.12" xml:space="preserve">6.88060</text>
<text x="1310" y="310" font-size="9.9" fill="#000" textLength="33.00" lengthAdjust="spacingAndGlyphs" stroke="#000" stroke-width="0.12" xml:space="preserve">6.86580</text>
<text x="1310" y="343" font-size="9.9" fill="#000" textLength="33.00" lengthAdjust="spacingAndGlyphs" stroke="#000" stroke-width="0.12" xml:space="preserve">6.85140</text>
<text x="1310" y="376" font-size="9.9" fill="#000" textLength="33.00" lengthAdjust="spacingAndGlyphs" stroke="#000" stroke-width="0.12" xml:space="preserve">6.83660</text>
<text x="1310" y="409" font-size="9.9" fill="#000" textLength="33.00" lengthAdjust="spacingAndGlyphs" stroke="#000" stroke-width="0.12" xml:space="preserve">6.82220</text>
<rect x="1306" y="287" width="41" height="11" fill="#000"/>
<text x="1310" y="296" font-size="9.9" fill="#fff" textLength="33.00" lengthAdjust="spacingAndGlyphs" stroke="#fff" stroke-width="0.12" xml:space="preserve">6.87232</text>
<text x="1308" y="421" font-size="9.9" fill="#000" textLength="28.00" lengthAdjust="spacingAndGlyphs" stroke="#000" stroke-width="0.12" xml:space="preserve">0.0119</text>
<text x="1308" y="436" font-size="9.9" fill="#000" textLength="18.00" lengthAdjust="spacingAndGlyphs" stroke="#000" stroke-width="0.12" xml:space="preserve">0.00</text>
<text x="1308" y="476" font-size="9.9" fill="#000" textLength="40.50" lengthAdjust="spacingAndGlyphs" stroke="#000" stroke-width="0.12" xml:space="preserve">-0.027754</text>
<text x="1308" y="492" font-size="9.9" fill="#000" textLength="14.60" lengthAdjust="spacingAndGlyphs" stroke="#000" stroke-width="0.12" xml:space="preserve">100</text>
<text x="1308" y="507" font-size="9.9" fill="#000" textLength="9.60" lengthAdjust="spacingAndGlyphs" stroke="#000" stroke-width="0.12" xml:space="preserve">70</text>
<text x="1308" y="535" font-size="9.9" fill="#000" textLength="9.60" lengthAdjust="spacingAndGlyphs" stroke="#000" stroke-width="0.12" xml:space="preserve">30</text>
<text x="1308" y="549" font-size="9.9" fill="#000" textLength="5.20" lengthAdjust="spacingAndGlyphs" stroke="#000" stroke-width="0.12" xml:space="preserve">0</text>
<text x="3.5" y="565" font-size="9.9" fill="#000" textLength="50.63" lengthAdjust="spacingAndGlyphs" stroke="#000" stroke-width="0.12" xml:space="preserve">26 Oct 2018</text>
<text x="67.5" y="565" font-size="9.9" fill="#000" textLength="53.22" lengthAdjust="spacingAndGlyphs" stroke="#000" stroke-width="0.12" xml:space="preserve">31 Oct 00:00</text>
<text x="131.5" y="565" font-size="9.9" fill="#000" textLength="50.11" lengthAdjust="spacingAndGlyphs" stroke="#000" stroke-width="0.12" xml:space="preserve">2 Nov 16:00</text>
<text x="195.5" y="565" font-size="9.9" fill="#000" textLength="50.11" lengthAdjust="spacingAndGlyphs" stroke="#000" stroke-width="0.12" xml:space="preserve">7 Nov 12:00</text>
<text x="259.5" y="565" font-size="9.9" fill="#000" textLength="55.30" lengthAdjust="spacingAndGlyphs" stroke="#000" stroke-width="0.12" xml:space="preserve">12 Nov 08:00</text>
<text x="323.5" y="565" font-size="9.9" fill="#000" textLength="55.30" lengthAdjust="spacingAndGlyphs" stroke="#000" stroke-width="0.12" xml:space="preserve">15 Nov 00:00</text>
<text x="387.5" y="565" font-size="9.9" fill="#000" textLength="55.30" lengthAdjust="spacingAndGlyphs" stroke="#000" stroke-width="0.12" xml:space="preserve">19 Nov 16:00</text>
<text x="451.5" y="565" font-size="9.9" fill="#000" textLength="55.30" lengthAdjust="spacingAndGlyphs" stroke="#000" stroke-width="0.12" xml:space="preserve">22 Nov 08:00</text>
<text x="515.5" y="565" font-size="9.9" fill="#000" textLength="55.30" lengthAdjust="spacingAndGlyphs" stroke="#000" stroke-width="0.12" xml:space="preserve">27 Nov 04:00</text>
<text x="579.5" y="565" font-size="9.9" fill="#000" textLength="55.30" lengthAdjust="spacingAndGlyphs" stroke="#000" stroke-width="0.12" xml:space="preserve">29 Nov 20:00</text>
<text x="643.5" y="565" font-size="9.9" fill="#000" textLength="50.11" lengthAdjust="spacingAndGlyphs" stroke="#000" stroke-width="0.12" xml:space="preserve">4 Dec 16:00</text>
<text x="707.5" y="565" font-size="9.9" fill="#000" textLength="50.11" lengthAdjust="spacingAndGlyphs" stroke="#000" stroke-width="0.12" xml:space="preserve">7 Dec 08:00</text>
<text x="771.5" y="565" font-size="9.9" fill="#000" textLength="55.30" lengthAdjust="spacingAndGlyphs" stroke="#000" stroke-width="0.12" xml:space="preserve">12 Dec 00:00</text>
<text x="835.5" y="565" font-size="9.9" fill="#000" textLength="55.30" lengthAdjust="spacingAndGlyphs" stroke="#000" stroke-width="0.12" xml:space="preserve">14 Dec 16:00</text>
<text x="899.5" y="565" font-size="9.9" fill="#000" textLength="55.30" lengthAdjust="spacingAndGlyphs" stroke="#000" stroke-width="0.12" xml:space="preserve">19 Dec 12:00</text>
<text x="963.5" y="565" font-size="9.9" fill="#000" textLength="55.30" lengthAdjust="spacingAndGlyphs" stroke="#000" stroke-width="0.12" xml:space="preserve">24 Dec 08:00</text>
<text x="1027.5" y="565" font-size="9.9" fill="#000" textLength="55.30" lengthAdjust="spacingAndGlyphs" stroke="#000" stroke-width="0.12" xml:space="preserve">27 Dec 20:00</text>
<g shape-rendering="crispEdges">
<rect x="0" y="575" width="1352" height="1" fill="#000"/>
<rect x="0" y="576" width="1352" height="19" fill="#f0f0f0"/>
<rect x="0" y="576" width="1" height="18" fill="#5a5a5a"/>
<rect x="1" y="576" width="1351" height="1" fill="#f8f8f8"/>
<rect x="0" y="595" width="1352" height="1" fill="#fcfcfc"/>
<rect x="1350" y="576" width="1" height="18" fill="#f8f8f8"/>
<rect x="369" y="575" width="93" height="20" fill="#000"/>
<rect x="370" y="573" width="91" height="21" fill="#fff"/>
<rect x="97" y="578" width="1" height="14" fill="#808080"/>
<rect x="189" y="578" width="1" height="14" fill="#808080"/>
<rect x="277" y="578" width="1" height="14" fill="#808080"/>
<rect x="545" y="578" width="1" height="14" fill="#808080"/>
<rect x="649" y="578" width="1" height="14" fill="#808080"/>
<rect x="749" y="578" width="1" height="14" fill="#808080"/>
<rect x="826" y="578" width="1" height="14" fill="#808080"/>
</g>
<text x="16.7" y="590" font-size="12.3" fill="#7a7a7a" textLength="68.70" lengthAdjust="spacingAndGlyphs" xml:space="preserve">EURUSD,H4</text>
<text x="107.2" y="590" font-size="12.3" fill="#7a7a7a" textLength="70.80" lengthAdjust="spacingAndGlyphs" xml:space="preserve">AUDUSD,H4</text>
<text x="198.2" y="590" font-size="12.3" fill="#7a7a7a" textLength="68.00" lengthAdjust="spacingAndGlyphs" xml:space="preserve">USDCHF,H4</text>
<text x="287.8" y="590" font-size="12.3" fill="#7a7a7a" textLength="69.20" lengthAdjust="spacingAndGlyphs" xml:space="preserve">USDCAD,H4</text>
<text x="470.5" y="590" font-size="12.3" fill="#7a7a7a" textLength="63.20" lengthAdjust="spacingAndGlyphs" xml:space="preserve">USDJPY,H4</text>
<text x="555.2" y="590" font-size="12.3" fill="#7a7a7a" textLength="82.20" lengthAdjust="spacingAndGlyphs" xml:space="preserve">XAUUSD,Daily</text>
<text x="659.9000000000001" y="590" font-size="12.3" fill="#7a7a7a" textLength="77.50" lengthAdjust="spacingAndGlyphs" xml:space="preserve">GBPUSD,M15</text>
<text x="759.6" y="590" font-size="12.3" fill="#7a7a7a" textLength="54.60" lengthAdjust="spacingAndGlyphs" xml:space="preserve">SP500,H1</text>
<text x="378.59999999999997" y="590" font-size="12.3" fill="#000" textLength="71.80" lengthAdjust="spacingAndGlyphs" xml:space="preserve">USDCNH,H4</text>
<path d="M1319.6 584 L1323.4 580.4 L1323.4 587.6 Z" fill="#8c8c8c"/><path d="M1342.4 584 L1338.6 580.4 L1338.6 587.6 Z" fill="#8c8c8c"/>
</svg></body></html>
